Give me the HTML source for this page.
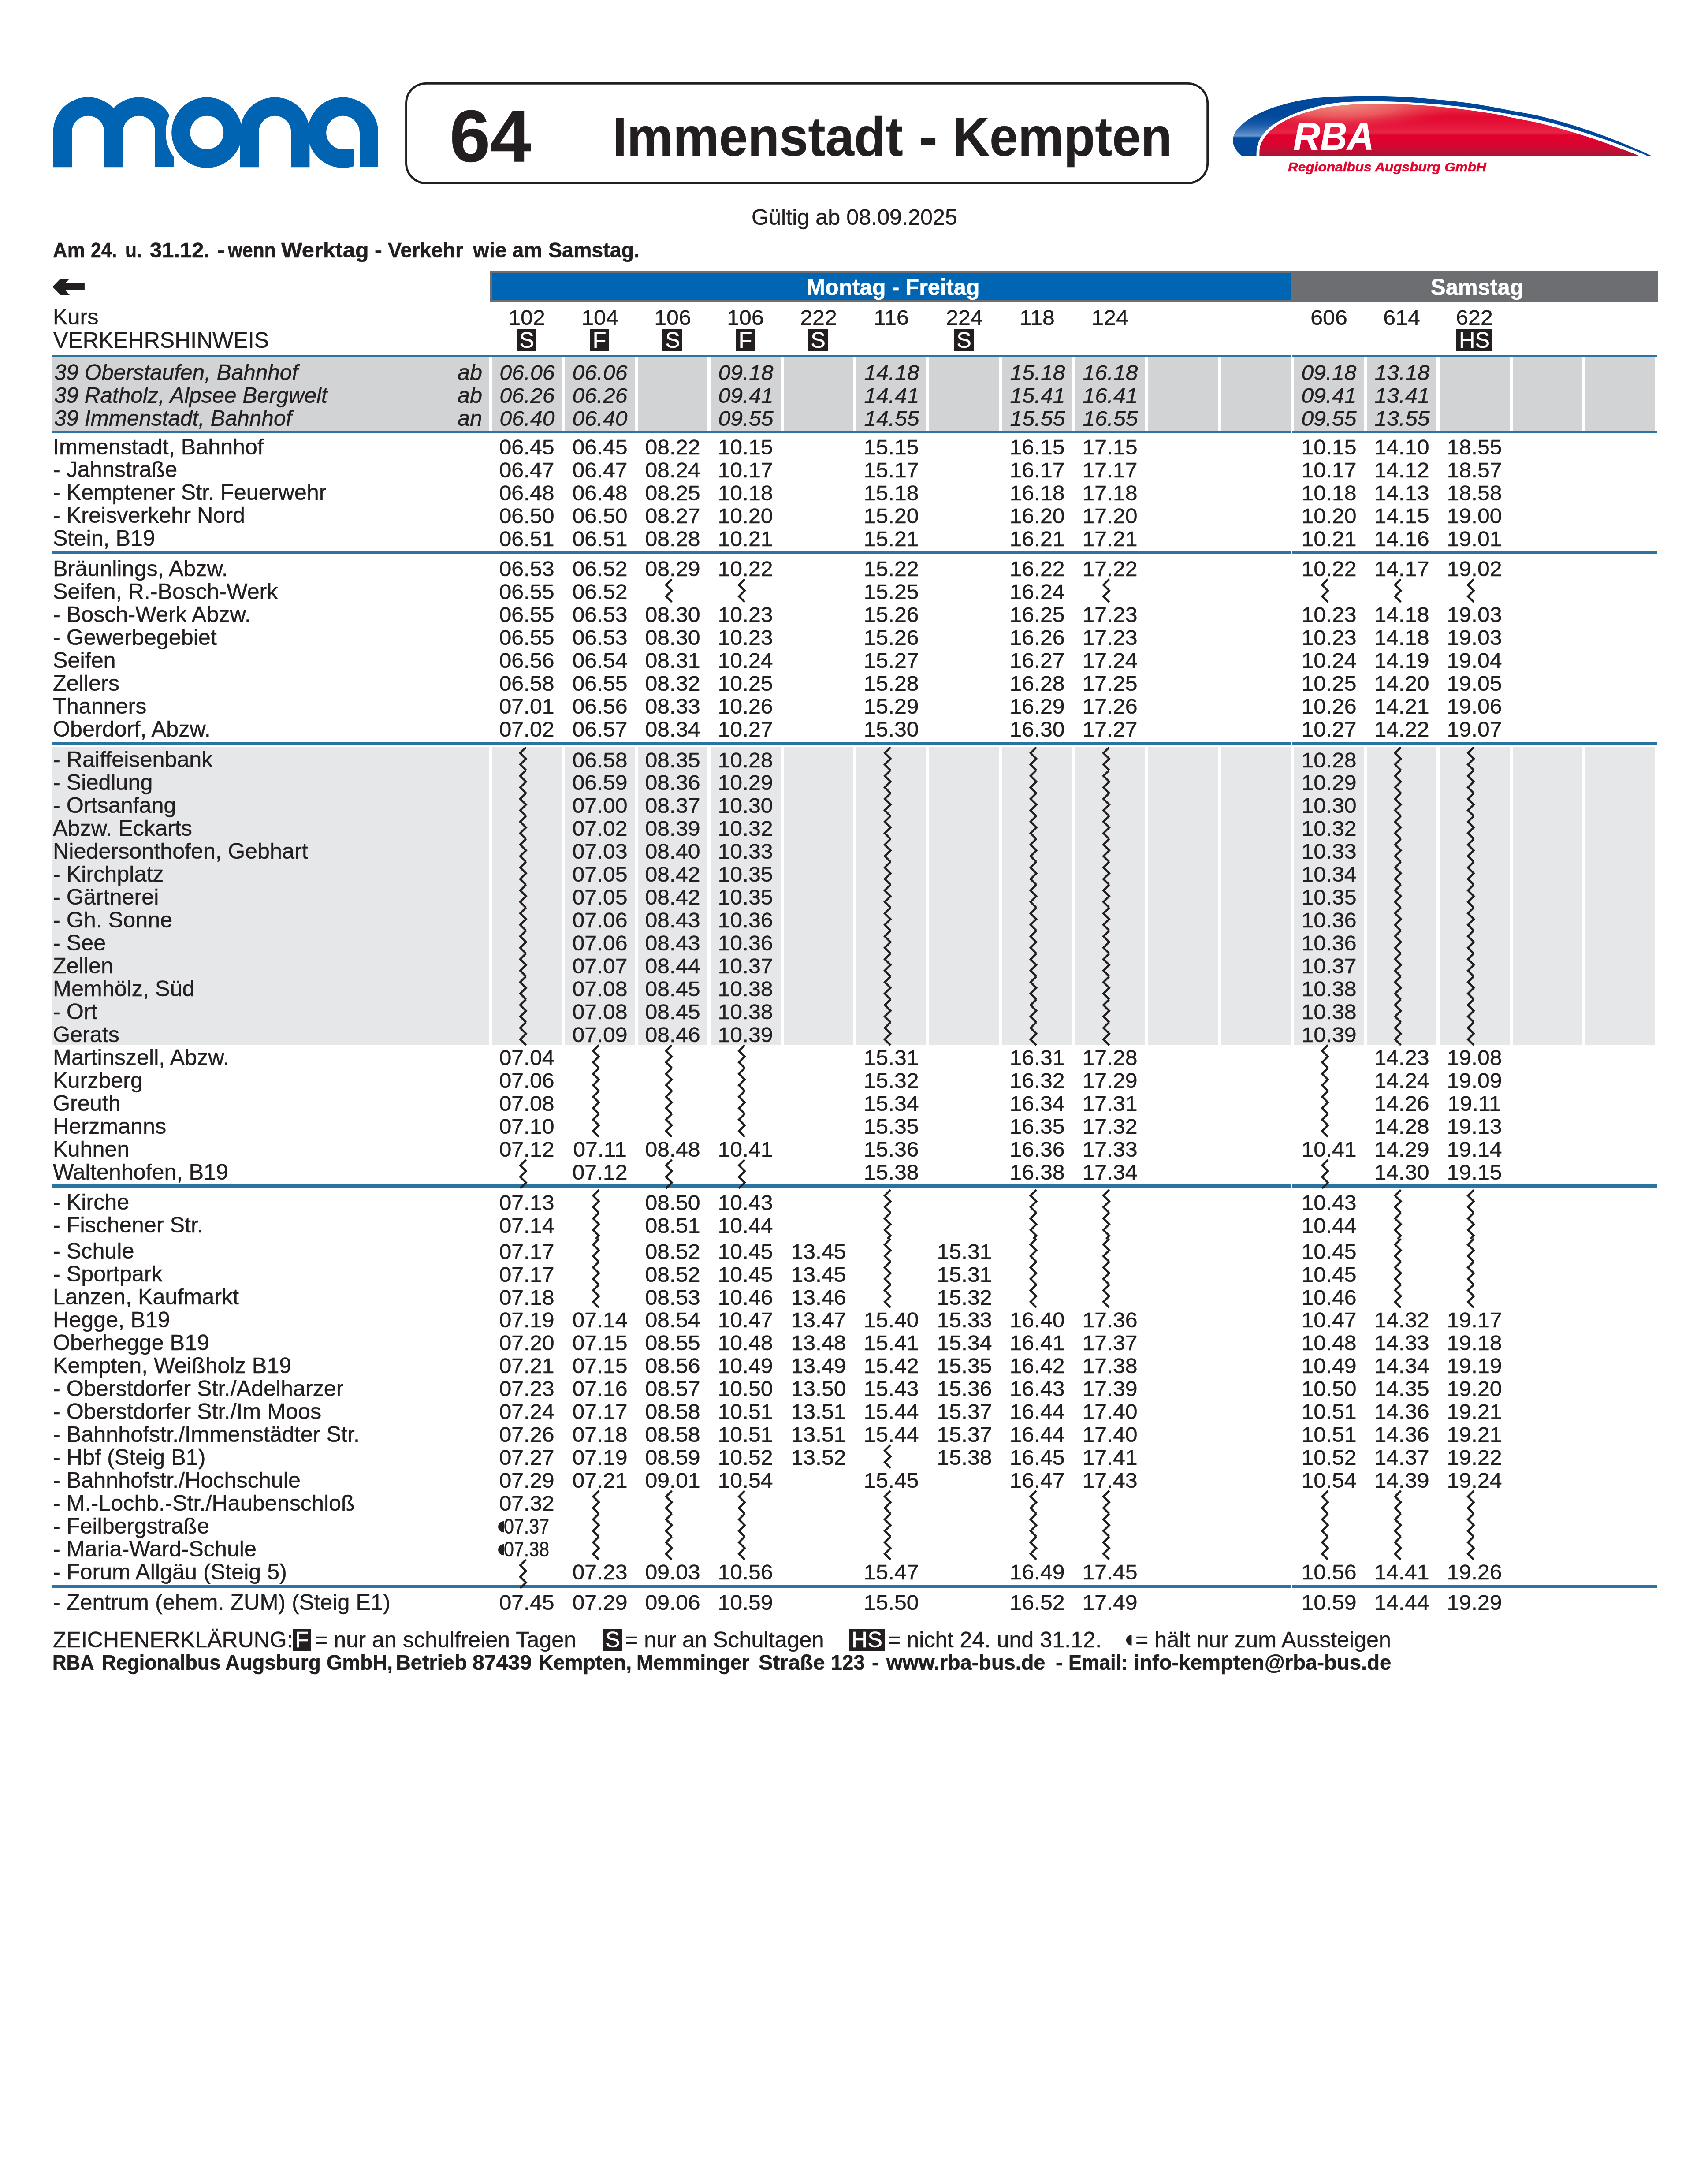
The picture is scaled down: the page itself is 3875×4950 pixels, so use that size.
<!DOCTYPE html>
<html lang="de"><head><meta charset="utf-8"><title>64 Immenstadt - Kempten</title><style>
html,body{margin:0;padding:0;background:#fff}
body{width:3875px;height:4950px;position:relative;overflow:hidden;font-family:"Liberation Sans",sans-serif;color:#231f20}
.r{position:absolute}
.g{position:absolute;left:0;top:0}
.t{position:absolute;white-space:pre;font-family:"Liberation Sans",sans-serif;-webkit-text-stroke:0.5px currentColor}
.i{font-style:italic}
.b{font-weight:bold;-webkit-text-stroke:0.6px currentColor}
.w{color:#fff}
</style></head><body>
<div class="r" style="left:119.00px;top:810.00px;width:990.00px;height:168.50px;background:#d1d3d4"></div>
<div class="r" style="left:1116.00px;top:810.00px;width:158.40px;height:168.50px;background:#d1d3d4"></div>
<div class="r" style="left:1281.40px;top:810.00px;width:158.40px;height:168.50px;background:#d1d3d4"></div>
<div class="r" style="left:1446.80px;top:810.00px;width:158.40px;height:168.50px;background:#d1d3d4"></div>
<div class="r" style="left:1612.20px;top:810.00px;width:158.40px;height:168.50px;background:#d1d3d4"></div>
<div class="r" style="left:1777.60px;top:810.00px;width:158.40px;height:168.50px;background:#d1d3d4"></div>
<div class="r" style="left:1943.00px;top:810.00px;width:158.40px;height:168.50px;background:#d1d3d4"></div>
<div class="r" style="left:2108.40px;top:810.00px;width:158.40px;height:168.50px;background:#d1d3d4"></div>
<div class="r" style="left:2273.80px;top:810.00px;width:158.40px;height:168.50px;background:#d1d3d4"></div>
<div class="r" style="left:2439.20px;top:810.00px;width:158.40px;height:168.50px;background:#d1d3d4"></div>
<div class="r" style="left:2604.60px;top:810.00px;width:158.40px;height:168.50px;background:#d1d3d4"></div>
<div class="r" style="left:2770.00px;top:810.00px;width:158.40px;height:168.50px;background:#d1d3d4"></div>
<div class="r" style="left:2935.40px;top:810.00px;width:158.40px;height:168.50px;background:#d1d3d4"></div>
<div class="r" style="left:3100.80px;top:810.00px;width:158.40px;height:168.50px;background:#d1d3d4"></div>
<div class="r" style="left:3266.20px;top:810.00px;width:158.40px;height:168.50px;background:#d1d3d4"></div>
<div class="r" style="left:3431.60px;top:810.00px;width:158.40px;height:168.50px;background:#d1d3d4"></div>
<div class="r" style="left:3597.00px;top:810.00px;width:158.40px;height:168.50px;background:#d1d3d4"></div>
<div class="r" style="left:119.00px;top:1694.01px;width:990.00px;height:676.04px;background:#e6e7e8"></div>
<div class="r" style="left:1116.00px;top:1694.01px;width:158.40px;height:676.04px;background:#e6e7e8"></div>
<div class="r" style="left:1281.40px;top:1694.01px;width:158.40px;height:676.04px;background:#e6e7e8"></div>
<div class="r" style="left:1446.80px;top:1694.01px;width:158.40px;height:676.04px;background:#e6e7e8"></div>
<div class="r" style="left:1612.20px;top:1694.01px;width:158.40px;height:676.04px;background:#e6e7e8"></div>
<div class="r" style="left:1777.60px;top:1694.01px;width:158.40px;height:676.04px;background:#e6e7e8"></div>
<div class="r" style="left:1943.00px;top:1694.01px;width:158.40px;height:676.04px;background:#e6e7e8"></div>
<div class="r" style="left:2108.40px;top:1694.01px;width:158.40px;height:676.04px;background:#e6e7e8"></div>
<div class="r" style="left:2273.80px;top:1694.01px;width:158.40px;height:676.04px;background:#e6e7e8"></div>
<div class="r" style="left:2439.20px;top:1694.01px;width:158.40px;height:676.04px;background:#e6e7e8"></div>
<div class="r" style="left:2604.60px;top:1694.01px;width:158.40px;height:676.04px;background:#e6e7e8"></div>
<div class="r" style="left:2770.00px;top:1694.01px;width:158.40px;height:676.04px;background:#e6e7e8"></div>
<div class="r" style="left:2935.40px;top:1694.01px;width:158.40px;height:676.04px;background:#e6e7e8"></div>
<div class="r" style="left:3100.80px;top:1694.01px;width:158.40px;height:676.04px;background:#e6e7e8"></div>
<div class="r" style="left:3266.20px;top:1694.01px;width:158.40px;height:676.04px;background:#e6e7e8"></div>
<div class="r" style="left:3431.60px;top:1694.01px;width:158.40px;height:676.04px;background:#e6e7e8"></div>
<div class="r" style="left:3597.00px;top:1694.01px;width:158.40px;height:676.04px;background:#e6e7e8"></div>
<div class="r" style="left:119.00px;top:805.00px;width:2809.00px;height:5.20px;background:#2b74a1"></div>
<div class="r" style="left:2931.20px;top:805.00px;width:827.80px;height:5.20px;background:#2b74a1"></div>
<div class="r" style="left:119.00px;top:978.00px;width:2809.00px;height:5.20px;background:#2b74a1"></div>
<div class="r" style="left:2931.20px;top:978.00px;width:827.80px;height:5.20px;background:#2b74a1"></div>
<div class="r" style="left:119.00px;top:1250.10px;width:2809.00px;height:7.00px;background:#2b74a1"></div>
<div class="r" style="left:2931.20px;top:1250.10px;width:827.80px;height:7.00px;background:#2b74a1"></div>
<div class="r" style="left:119.00px;top:1683.20px;width:2809.00px;height:6.80px;background:#2b74a1"></div>
<div class="r" style="left:2931.20px;top:1683.20px;width:827.80px;height:6.80px;background:#2b74a1"></div>
<div class="r" style="left:119.00px;top:2686.90px;width:2809.00px;height:6.80px;background:#2b74a1"></div>
<div class="r" style="left:2931.20px;top:2686.90px;width:827.80px;height:6.80px;background:#2b74a1"></div>
<div class="r" style="left:119.00px;top:3596.30px;width:2809.00px;height:6.60px;background:#2b74a1"></div>
<div class="r" style="left:2931.20px;top:3596.30px;width:827.80px;height:6.60px;background:#2b74a1"></div>
<div class="r" style="left:1112.00px;top:615.00px;width:2649.00px;height:70.00px;background:#6d6e71"></div>
<div class="r" style="left:1116.50px;top:620.00px;width:1812.50px;height:60.00px;background:#0066b3"></div>
<div class="r" style="left:1172.40px;top:746.20px;width:44.60px;height:50.60px;background:#231f20"></div>
<div class="r" style="left:1339.20px;top:746.20px;width:41.80px;height:50.60px;background:#231f20"></div>
<div class="r" style="left:1503.20px;top:746.20px;width:44.60px;height:50.60px;background:#231f20"></div>
<div class="r" style="left:1670.00px;top:746.20px;width:41.80px;height:50.60px;background:#231f20"></div>
<div class="r" style="left:1834.00px;top:746.20px;width:44.60px;height:50.60px;background:#231f20"></div>
<div class="r" style="left:2164.80px;top:746.20px;width:44.60px;height:50.60px;background:#231f20"></div>
<div class="r" style="left:3304.40px;top:746.20px;width:81.00px;height:50.60px;background:#231f20"></div>
<div class="r" style="left:664.00px;top:3695.00px;width:42.00px;height:50.40px;background:#231f20"></div>
<div class="r" style="left:1367.50px;top:3695.00px;width:44.20px;height:50.40px;background:#231f20"></div>
<div class="r" style="left:1926.00px;top:3695.00px;width:81.00px;height:50.40px;background:#231f20"></div>
<svg class="g" width="3875" height="4950" viewBox="0 0 3875 4950">
<g fill="none" stroke="#0064b2" stroke-width="42.4">
<path d="M141.9,379.2 V299.4 A57.85,57.85 0 0 1 257.6,299.4 V379.2 M257.6,299.4 A57.8,57.8 0 0 1 373.2,299.4 V379.2"/>
</g>
<circle cx="469.3" cy="300.7" r="93.4" fill="#fff" stroke="none"/>
<rect x="352" y="379.2" width="120" height="16" fill="#fff" stroke="none"/>
<g fill="none" stroke="#0064b2" stroke-width="42.2">
<circle cx="469.3" cy="300.7" r="59"/>
<path d="M566.1,379.2 V299.2 A57.6,57.6 0 0 1 681.3,299.2 V379.2"/>
<circle cx="778" cy="300.7" r="59"/>
</g>
<rect x="802" y="300.7" width="14" height="84" fill="#fff" stroke="none"/>
<rect x="788" y="322" width="15" height="15" fill="#fff" stroke="none"/>
<rect x="816" y="300.7" width="41.6" height="78.5" fill="#0064b2" stroke="none"/>
<rect x="802" y="379.2" width="60" height="6" fill="#fff" stroke="none"/>

<defs>
<linearGradient id="rg" gradientUnits="userSpaceOnUse" x1="0" y1="235" x2="0" y2="355">
<stop offset="0" stop-color="#e63a4c"/><stop offset="0.25" stop-color="#e3082f"/><stop offset="0.42" stop-color="#e5163c"/><stop offset="0.55" stop-color="#e72446"/><stop offset="0.6" stop-color="#e1002d"/><stop offset="0.78" stop-color="#d90430"/><stop offset="0.9" stop-color="#ba1235"/><stop offset="1" stop-color="#a91434"/>
</linearGradient>
<radialGradient id="rh" gradientUnits="userSpaceOnUse" cx="3040" cy="238" r="260" gradientTransform="translate(3040,238) scale(1,0.21) translate(-3040,-238)">
<stop offset="0" stop-color="#f0907f" stop-opacity="0.95"/><stop offset="0.5" stop-color="#ec6e6a" stop-opacity="0.75"/><stop offset="1" stop-color="#e63a4c" stop-opacity="0"/>
</radialGradient>
<linearGradient id="bg" gradientUnits="userSpaceOnUse" x1="0" y1="250" x2="0" y2="355">
<stop offset="0" stop-color="#00489b" stop-opacity="0"/><stop offset="0.3" stop-color="#2a66b3" stop-opacity="0.6"/><stop offset="0.56" stop-color="#6a98cf" stop-opacity="1"/><stop offset="0.6" stop-color="#0c4ea2" stop-opacity="0.3"/><stop offset="1" stop-color="#00489b" stop-opacity="0"/>
</linearGradient>
<linearGradient id="bgx" gradientUnits="userSpaceOnUse" x1="2797" y1="0" x2="2960" y2="0">
<stop offset="0" stop-color="#fff" stop-opacity="1"/><stop offset="0.55" stop-color="#fff" stop-opacity="1"/><stop offset="1" stop-color="#fff" stop-opacity="0"/>
</linearGradient>
<mask id="bm" maskUnits="userSpaceOnUse" x="2790" y="200" width="200" height="170"><rect x="2790" y="200" width="200" height="170" fill="url(#bgx)"/></mask>
<clipPath id="bc"><path d="M2818.6,354.8 C2816.3,352.5 2808.5,345.6 2805.1,341.0 C2801.7,336.4 2799.7,331.7 2798.4,327.5 C2797.1,323.3 2796.9,320.1 2797.4,315.9 C2797.9,311.7 2799.1,306.9 2801.3,302.4 C2803.6,297.9 2806.7,293.4 2810.9,288.9 C2815.1,284.4 2820.3,279.8 2826.4,275.3 C2832.5,270.8 2839.9,266.0 2847.6,261.8 C2855.3,257.6 2864.0,253.7 2872.7,250.2 C2881.4,246.7 2889.5,243.8 2899.8,240.6 C2910.1,237.4 2922.4,233.7 2934.6,230.9 C2946.8,228.2 2960.3,225.9 2973.2,224.1 C2986.1,222.3 2998.9,221.2 3011.8,220.3 C3024.7,219.4 3035.8,218.8 3050.5,218.4 C3065.2,218.0 3082.1,218.0 3100.0,218.0 C3117.9,218.0 3138.7,217.8 3158.0,218.4 C3177.3,219.0 3196.6,220.4 3215.9,221.8 C3235.2,223.2 3254.6,225.0 3273.9,227.0 C3293.2,229.0 3312.5,231.1 3331.8,233.8 C3351.1,236.6 3373.4,240.6 3389.8,243.5 C3406.2,246.4 3413.6,248.2 3430.0,251.3 C3446.4,254.4 3468.7,257.6 3488.0,261.9 C3507.3,266.2 3526.6,271.7 3545.9,277.3 C3565.2,282.9 3584.6,289.1 3603.9,295.7 C3623.2,302.3 3642.5,309.3 3661.8,316.9 C3681.1,324.5 3705.4,334.9 3719.8,341.1 C3734.2,347.3 3743.3,352.0 3748.0,354.2 L3740.0,354.8 C3736.6,353.3 3732.8,351.1 3719.8,345.9 C3706.8,340.7 3681.1,330.7 3661.8,323.7 C3642.5,316.7 3623.2,310.1 3603.9,303.8 C3584.6,297.5 3565.2,291.5 3545.9,286.0 C3526.6,280.5 3507.3,275.4 3488.0,271.0 C3468.7,266.6 3446.4,262.9 3430.0,259.9 C3413.6,256.9 3406.2,255.8 3389.8,253.1 C3373.4,250.4 3351.1,246.6 3331.8,244.0 C3312.5,241.4 3293.2,239.5 3273.9,237.7 C3254.6,235.9 3235.2,234.4 3215.9,233.2 C3196.6,232.0 3177.3,231.1 3158.0,230.5 C3138.7,229.9 3117.9,229.7 3100.0,229.9 C3082.1,230.1 3065.2,230.4 3050.5,231.5 C3035.8,232.6 3024.7,234.1 3011.8,236.5 C2998.9,238.9 2984.5,242.9 2973.2,246.0 C2961.9,249.1 2953.9,251.4 2944.2,255.0 C2934.5,258.6 2924.5,262.9 2915.2,267.6 C2905.9,272.3 2895.9,277.6 2888.2,283.1 C2880.5,288.6 2874.1,294.7 2868.9,300.5 C2863.8,306.3 2860.2,312.1 2857.3,317.9 C2854.4,323.7 2852.6,329.0 2851.5,335.2 C2850.4,341.4 2850.7,351.5 2850.5,354.8 Z"/></clipPath>
<clipPath id="rc"><path d="M2857.3,354.8 C2857.5,351.5 2857.1,341.0 2858.2,335.2 C2859.3,329.4 2861.2,324.9 2864.0,319.8 C2866.8,314.7 2870.0,309.6 2874.7,304.3 C2879.4,299.0 2884.7,293.3 2892.1,287.9 C2899.5,282.5 2909.8,276.6 2919.1,271.9 C2928.4,267.2 2938.4,263.3 2948.1,259.9 C2957.8,256.4 2966.5,254.0 2977.1,251.2 C2987.7,248.4 2999.6,245.1 3011.8,243.0 C3024.0,240.9 3035.8,239.8 3050.5,238.6 C3065.2,237.4 3082.1,236.1 3100.0,235.7 C3117.9,235.3 3138.7,235.9 3158.0,236.3 C3177.3,236.7 3196.6,237.2 3215.9,238.3 C3235.2,239.4 3254.6,241.0 3273.9,242.9 C3293.2,244.8 3312.5,247.2 3331.8,249.8 C3351.1,252.4 3373.4,255.5 3389.8,258.3 C3406.2,261.1 3413.6,263.4 3430.0,266.7 C3446.4,270.0 3468.7,273.9 3488.0,278.3 C3507.3,282.8 3526.6,287.9 3545.9,293.4 C3565.2,298.9 3584.6,304.8 3603.9,311.1 C3623.2,317.4 3645.7,325.6 3661.8,331.4 C3677.9,337.2 3690.4,342.0 3700.5,345.9 C3710.6,349.8 3718.8,353.3 3722.5,354.8 Z"/></clipPath>
</defs>
<path fill="#00489b" stroke="none" d="M2818.6,354.8 C2816.3,352.5 2808.5,345.6 2805.1,341.0 C2801.7,336.4 2799.7,331.7 2798.4,327.5 C2797.1,323.3 2796.9,320.1 2797.4,315.9 C2797.9,311.7 2799.1,306.9 2801.3,302.4 C2803.6,297.9 2806.7,293.4 2810.9,288.9 C2815.1,284.4 2820.3,279.8 2826.4,275.3 C2832.5,270.8 2839.9,266.0 2847.6,261.8 C2855.3,257.6 2864.0,253.7 2872.7,250.2 C2881.4,246.7 2889.5,243.8 2899.8,240.6 C2910.1,237.4 2922.4,233.7 2934.6,230.9 C2946.8,228.2 2960.3,225.9 2973.2,224.1 C2986.1,222.3 2998.9,221.2 3011.8,220.3 C3024.7,219.4 3035.8,218.8 3050.5,218.4 C3065.2,218.0 3082.1,218.0 3100.0,218.0 C3117.9,218.0 3138.7,217.8 3158.0,218.4 C3177.3,219.0 3196.6,220.4 3215.9,221.8 C3235.2,223.2 3254.6,225.0 3273.9,227.0 C3293.2,229.0 3312.5,231.1 3331.8,233.8 C3351.1,236.6 3373.4,240.6 3389.8,243.5 C3406.2,246.4 3413.6,248.2 3430.0,251.3 C3446.4,254.4 3468.7,257.6 3488.0,261.9 C3507.3,266.2 3526.6,271.7 3545.9,277.3 C3565.2,282.9 3584.6,289.1 3603.9,295.7 C3623.2,302.3 3642.5,309.3 3661.8,316.9 C3681.1,324.5 3705.4,334.9 3719.8,341.1 C3734.2,347.3 3743.3,352.0 3748.0,354.2 L3740.0,354.8 C3736.6,353.3 3732.8,351.1 3719.8,345.9 C3706.8,340.7 3681.1,330.7 3661.8,323.7 C3642.5,316.7 3623.2,310.1 3603.9,303.8 C3584.6,297.5 3565.2,291.5 3545.9,286.0 C3526.6,280.5 3507.3,275.4 3488.0,271.0 C3468.7,266.6 3446.4,262.9 3430.0,259.9 C3413.6,256.9 3406.2,255.8 3389.8,253.1 C3373.4,250.4 3351.1,246.6 3331.8,244.0 C3312.5,241.4 3293.2,239.5 3273.9,237.7 C3254.6,235.9 3235.2,234.4 3215.9,233.2 C3196.6,232.0 3177.3,231.1 3158.0,230.5 C3138.7,229.9 3117.9,229.7 3100.0,229.9 C3082.1,230.1 3065.2,230.4 3050.5,231.5 C3035.8,232.6 3024.7,234.1 3011.8,236.5 C2998.9,238.9 2984.5,242.9 2973.2,246.0 C2961.9,249.1 2953.9,251.4 2944.2,255.0 C2934.5,258.6 2924.5,262.9 2915.2,267.6 C2905.9,272.3 2895.9,277.6 2888.2,283.1 C2880.5,288.6 2874.1,294.7 2868.9,300.5 C2863.8,306.3 2860.2,312.1 2857.3,317.9 C2854.4,323.7 2852.6,329.0 2851.5,335.2 C2850.4,341.4 2850.7,351.5 2850.5,354.8 Z"/>
<g clip-path="url(#bc)"><rect x="2790" y="240" width="200" height="120" fill="url(#bg)" mask="url(#bm)"/></g>
<path fill="url(#rg)" stroke="none" d="M2857.3,354.8 C2857.5,351.5 2857.1,341.0 2858.2,335.2 C2859.3,329.4 2861.2,324.9 2864.0,319.8 C2866.8,314.7 2870.0,309.6 2874.7,304.3 C2879.4,299.0 2884.7,293.3 2892.1,287.9 C2899.5,282.5 2909.8,276.6 2919.1,271.9 C2928.4,267.2 2938.4,263.3 2948.1,259.9 C2957.8,256.4 2966.5,254.0 2977.1,251.2 C2987.7,248.4 2999.6,245.1 3011.8,243.0 C3024.0,240.9 3035.8,239.8 3050.5,238.6 C3065.2,237.4 3082.1,236.1 3100.0,235.7 C3117.9,235.3 3138.7,235.9 3158.0,236.3 C3177.3,236.7 3196.6,237.2 3215.9,238.3 C3235.2,239.4 3254.6,241.0 3273.9,242.9 C3293.2,244.8 3312.5,247.2 3331.8,249.8 C3351.1,252.4 3373.4,255.5 3389.8,258.3 C3406.2,261.1 3413.6,263.4 3430.0,266.7 C3446.4,270.0 3468.7,273.9 3488.0,278.3 C3507.3,282.8 3526.6,287.9 3545.9,293.4 C3565.2,298.9 3584.6,304.8 3603.9,311.1 C3623.2,317.4 3645.7,325.6 3661.8,331.4 C3677.9,337.2 3690.4,342.0 3700.5,345.9 C3710.6,349.8 3718.8,353.3 3722.5,354.8 Z"/>
<g clip-path="url(#rc)"><rect x="2780" y="180" width="520" height="120" fill="url(#rh)"/></g>
<g fill="none" stroke="#231f20" stroke-width="4.6" stroke-linejoin="miter" stroke-miterlimit="10"><polyline points="1524.2,1313.9 1511.0,1326.9 1524.2,1339.9 1511.0,1352.9 1524.2,1365.9"/><polyline points="1689.6,1313.9 1676.4,1326.9 1689.6,1339.9 1676.4,1352.9 1689.6,1365.9"/><polyline points="2516.6,1313.9 2503.4,1326.9 2516.6,1339.9 2503.4,1352.9 2516.6,1365.9"/><polyline points="3012.8,1313.9 2999.6,1326.9 3012.8,1339.9 2999.6,1352.9 3012.8,1365.9"/><polyline points="3178.2,1313.9 3165.0,1326.9 3178.2,1339.9 3165.0,1352.9 3178.2,1365.9"/><polyline points="3343.6,1313.9 3330.4,1326.9 3343.6,1339.9 3330.4,1352.9 3343.6,1365.9"/><polyline points="1193.4,1695.3 1180.2,1708.3 1193.4,1721.3 1180.2,1734.3 1193.4,1747.3"/><polyline points="2020.4,1695.3 2007.2,1708.3 2020.4,1721.3 2007.2,1734.3 2020.4,1747.3"/><polyline points="2351.2,1695.3 2338.0,1708.3 2351.2,1721.3 2338.0,1734.3 2351.2,1747.3"/><polyline points="2516.6,1695.3 2503.4,1708.3 2516.6,1721.3 2503.4,1734.3 2516.6,1747.3"/><polyline points="3178.2,1695.3 3165.0,1708.3 3178.2,1721.3 3165.0,1734.3 3178.2,1747.3"/><polyline points="3343.6,1695.3 3330.4,1708.3 3343.6,1721.3 3330.4,1734.3 3343.6,1747.3"/><polyline points="1193.4,1747.3 1180.2,1760.3 1193.4,1773.3 1180.2,1786.3 1193.4,1799.3"/><polyline points="2020.4,1747.3 2007.2,1760.3 2020.4,1773.3 2007.2,1786.3 2020.4,1799.3"/><polyline points="2351.2,1747.3 2338.0,1760.3 2351.2,1773.3 2338.0,1786.3 2351.2,1799.3"/><polyline points="2516.6,1747.3 2503.4,1760.3 2516.6,1773.3 2503.4,1786.3 2516.6,1799.3"/><polyline points="3178.2,1747.3 3165.0,1760.3 3178.2,1773.3 3165.0,1786.3 3178.2,1799.3"/><polyline points="3343.6,1747.3 3330.4,1760.3 3343.6,1773.3 3330.4,1786.3 3343.6,1799.3"/><polyline points="1193.4,1799.3 1180.2,1812.3 1193.4,1825.3 1180.2,1838.3 1193.4,1851.3"/><polyline points="2020.4,1799.3 2007.2,1812.3 2020.4,1825.3 2007.2,1838.3 2020.4,1851.3"/><polyline points="2351.2,1799.3 2338.0,1812.3 2351.2,1825.3 2338.0,1838.3 2351.2,1851.3"/><polyline points="2516.6,1799.3 2503.4,1812.3 2516.6,1825.3 2503.4,1838.3 2516.6,1851.3"/><polyline points="3178.2,1799.3 3165.0,1812.3 3178.2,1825.3 3165.0,1838.3 3178.2,1851.3"/><polyline points="3343.6,1799.3 3330.4,1812.3 3343.6,1825.3 3330.4,1838.3 3343.6,1851.3"/><polyline points="1193.4,1851.2 1180.2,1864.2 1193.4,1877.2 1180.2,1890.2 1193.4,1903.2"/><polyline points="2020.4,1851.2 2007.2,1864.2 2020.4,1877.2 2007.2,1890.2 2020.4,1903.2"/><polyline points="2351.2,1851.2 2338.0,1864.2 2351.2,1877.2 2338.0,1890.2 2351.2,1903.2"/><polyline points="2516.6,1851.2 2503.4,1864.2 2516.6,1877.2 2503.4,1890.2 2516.6,1903.2"/><polyline points="3178.2,1851.2 3165.0,1864.2 3178.2,1877.2 3165.0,1890.2 3178.2,1903.2"/><polyline points="3343.6,1851.2 3330.4,1864.2 3343.6,1877.2 3330.4,1890.2 3343.6,1903.2"/><polyline points="1193.4,1903.2 1180.2,1916.2 1193.4,1929.2 1180.2,1942.2 1193.4,1955.2"/><polyline points="2020.4,1903.2 2007.2,1916.2 2020.4,1929.2 2007.2,1942.2 2020.4,1955.2"/><polyline points="2351.2,1903.2 2338.0,1916.2 2351.2,1929.2 2338.0,1942.2 2351.2,1955.2"/><polyline points="2516.6,1903.2 2503.4,1916.2 2516.6,1929.2 2503.4,1942.2 2516.6,1955.2"/><polyline points="3178.2,1903.2 3165.0,1916.2 3178.2,1929.2 3165.0,1942.2 3178.2,1955.2"/><polyline points="3343.6,1903.2 3330.4,1916.2 3343.6,1929.2 3330.4,1942.2 3343.6,1955.2"/><polyline points="1193.4,1955.2 1180.2,1968.2 1193.4,1981.2 1180.2,1994.2 1193.4,2007.2"/><polyline points="2020.4,1955.2 2007.2,1968.2 2020.4,1981.2 2007.2,1994.2 2020.4,2007.2"/><polyline points="2351.2,1955.2 2338.0,1968.2 2351.2,1981.2 2338.0,1994.2 2351.2,2007.2"/><polyline points="2516.6,1955.2 2503.4,1968.2 2516.6,1981.2 2503.4,1994.2 2516.6,2007.2"/><polyline points="3178.2,1955.2 3165.0,1968.2 3178.2,1981.2 3165.0,1994.2 3178.2,2007.2"/><polyline points="3343.6,1955.2 3330.4,1968.2 3343.6,1981.2 3330.4,1994.2 3343.6,2007.2"/><polyline points="1193.4,2007.1 1180.2,2020.1 1193.4,2033.1 1180.2,2046.1 1193.4,2059.1"/><polyline points="2020.4,2007.1 2007.2,2020.1 2020.4,2033.1 2007.2,2046.1 2020.4,2059.1"/><polyline points="2351.2,2007.1 2338.0,2020.1 2351.2,2033.1 2338.0,2046.1 2351.2,2059.1"/><polyline points="2516.6,2007.1 2503.4,2020.1 2516.6,2033.1 2503.4,2046.1 2516.6,2059.1"/><polyline points="3178.2,2007.1 3165.0,2020.1 3178.2,2033.1 3165.0,2046.1 3178.2,2059.1"/><polyline points="3343.6,2007.1 3330.4,2020.1 3343.6,2033.1 3330.4,2046.1 3343.6,2059.1"/><polyline points="1193.4,2059.1 1180.2,2072.1 1193.4,2085.1 1180.2,2098.1 1193.4,2111.1"/><polyline points="2020.4,2059.1 2007.2,2072.1 2020.4,2085.1 2007.2,2098.1 2020.4,2111.1"/><polyline points="2351.2,2059.1 2338.0,2072.1 2351.2,2085.1 2338.0,2098.1 2351.2,2111.1"/><polyline points="2516.6,2059.1 2503.4,2072.1 2516.6,2085.1 2503.4,2098.1 2516.6,2111.1"/><polyline points="3178.2,2059.1 3165.0,2072.1 3178.2,2085.1 3165.0,2098.1 3178.2,2111.1"/><polyline points="3343.6,2059.1 3330.4,2072.1 3343.6,2085.1 3330.4,2098.1 3343.6,2111.1"/><polyline points="1193.4,2111.1 1180.2,2124.1 1193.4,2137.1 1180.2,2150.1 1193.4,2163.1"/><polyline points="2020.4,2111.1 2007.2,2124.1 2020.4,2137.1 2007.2,2150.1 2020.4,2163.1"/><polyline points="2351.2,2111.1 2338.0,2124.1 2351.2,2137.1 2338.0,2150.1 2351.2,2163.1"/><polyline points="2516.6,2111.1 2503.4,2124.1 2516.6,2137.1 2503.4,2150.1 2516.6,2163.1"/><polyline points="3178.2,2111.1 3165.0,2124.1 3178.2,2137.1 3165.0,2150.1 3178.2,2163.1"/><polyline points="3343.6,2111.1 3330.4,2124.1 3343.6,2137.1 3330.4,2150.1 3343.6,2163.1"/><polyline points="1193.4,2163.0 1180.2,2176.0 1193.4,2189.0 1180.2,2202.0 1193.4,2215.0"/><polyline points="2020.4,2163.0 2007.2,2176.0 2020.4,2189.0 2007.2,2202.0 2020.4,2215.0"/><polyline points="2351.2,2163.0 2338.0,2176.0 2351.2,2189.0 2338.0,2202.0 2351.2,2215.0"/><polyline points="2516.6,2163.0 2503.4,2176.0 2516.6,2189.0 2503.4,2202.0 2516.6,2215.0"/><polyline points="3178.2,2163.0 3165.0,2176.0 3178.2,2189.0 3165.0,2202.0 3178.2,2215.0"/><polyline points="3343.6,2163.0 3330.4,2176.0 3343.6,2189.0 3330.4,2202.0 3343.6,2215.0"/><polyline points="1193.4,2215.0 1180.2,2228.0 1193.4,2241.0 1180.2,2254.0 1193.4,2267.0"/><polyline points="2020.4,2215.0 2007.2,2228.0 2020.4,2241.0 2007.2,2254.0 2020.4,2267.0"/><polyline points="2351.2,2215.0 2338.0,2228.0 2351.2,2241.0 2338.0,2254.0 2351.2,2267.0"/><polyline points="2516.6,2215.0 2503.4,2228.0 2516.6,2241.0 2503.4,2254.0 2516.6,2267.0"/><polyline points="3178.2,2215.0 3165.0,2228.0 3178.2,2241.0 3165.0,2254.0 3178.2,2267.0"/><polyline points="3343.6,2215.0 3330.4,2228.0 3343.6,2241.0 3330.4,2254.0 3343.6,2267.0"/><polyline points="1193.4,2267.0 1180.2,2280.0 1193.4,2293.0 1180.2,2306.0 1193.4,2319.0"/><polyline points="2020.4,2267.0 2007.2,2280.0 2020.4,2293.0 2007.2,2306.0 2020.4,2319.0"/><polyline points="2351.2,2267.0 2338.0,2280.0 2351.2,2293.0 2338.0,2306.0 2351.2,2319.0"/><polyline points="2516.6,2267.0 2503.4,2280.0 2516.6,2293.0 2503.4,2306.0 2516.6,2319.0"/><polyline points="3178.2,2267.0 3165.0,2280.0 3178.2,2293.0 3165.0,2306.0 3178.2,2319.0"/><polyline points="3343.6,2267.0 3330.4,2280.0 3343.6,2293.0 3330.4,2306.0 3343.6,2319.0"/><polyline points="1193.4,2318.9 1180.2,2331.9 1193.4,2344.9 1180.2,2357.9 1193.4,2370.9"/><polyline points="2020.4,2318.9 2007.2,2331.9 2020.4,2344.9 2007.2,2357.9 2020.4,2370.9"/><polyline points="2351.2,2318.9 2338.0,2331.9 2351.2,2344.9 2338.0,2357.9 2351.2,2370.9"/><polyline points="2516.6,2318.9 2503.4,2331.9 2516.6,2344.9 2503.4,2357.9 2516.6,2370.9"/><polyline points="3178.2,2318.9 3165.0,2331.9 3178.2,2344.9 3165.0,2357.9 3178.2,2370.9"/><polyline points="3343.6,2318.9 3330.4,2331.9 3343.6,2344.9 3330.4,2357.9 3343.6,2370.9"/><polyline points="1358.8,2370.9 1345.6,2383.9 1358.8,2396.9 1345.6,2409.9 1358.8,2422.9"/><polyline points="1524.2,2370.9 1511.0,2383.9 1524.2,2396.9 1511.0,2409.9 1524.2,2422.9"/><polyline points="1689.6,2370.9 1676.4,2383.9 1689.6,2396.9 1676.4,2409.9 1689.6,2422.9"/><polyline points="3012.8,2370.9 2999.6,2383.9 3012.8,2396.9 2999.6,2409.9 3012.8,2422.9"/><polyline points="1358.8,2422.9 1345.6,2435.9 1358.8,2448.9 1345.6,2461.9 1358.8,2474.9"/><polyline points="1524.2,2422.9 1511.0,2435.9 1524.2,2448.9 1511.0,2461.9 1524.2,2474.9"/><polyline points="1689.6,2422.9 1676.4,2435.9 1689.6,2448.9 1676.4,2461.9 1689.6,2474.9"/><polyline points="3012.8,2422.9 2999.6,2435.9 3012.8,2448.9 2999.6,2461.9 3012.8,2474.9"/><polyline points="1358.8,2474.9 1345.6,2487.9 1358.8,2500.9 1345.6,2513.9 1358.8,2526.9"/><polyline points="1524.2,2474.9 1511.0,2487.9 1524.2,2500.9 1511.0,2513.9 1524.2,2526.9"/><polyline points="1689.6,2474.9 1676.4,2487.9 1689.6,2500.9 1676.4,2513.9 1689.6,2526.9"/><polyline points="3012.8,2474.9 2999.6,2487.9 3012.8,2500.9 2999.6,2513.9 3012.8,2526.9"/><polyline points="1358.8,2526.8 1345.6,2539.8 1358.8,2552.8 1345.6,2565.8 1358.8,2578.8"/><polyline points="1524.2,2526.8 1511.0,2539.8 1524.2,2552.8 1511.0,2565.8 1524.2,2578.8"/><polyline points="1689.6,2526.8 1676.4,2539.8 1689.6,2552.8 1676.4,2565.8 1689.6,2578.8"/><polyline points="3012.8,2526.8 2999.6,2539.8 3012.8,2552.8 2999.6,2565.8 3012.8,2578.8"/><polyline points="1193.4,2630.8 1180.2,2643.8 1193.4,2656.8 1180.2,2669.8 1193.4,2682.8 1180.2,2695.8"/><polyline points="1524.2,2630.8 1511.0,2643.8 1524.2,2656.8 1511.0,2669.8 1524.2,2682.8 1511.0,2695.8"/><polyline points="1689.6,2630.8 1676.4,2643.8 1689.6,2656.8 1676.4,2669.8 1689.6,2682.8 1676.4,2695.8"/><polyline points="3012.8,2630.8 2999.6,2643.8 3012.8,2656.8 2999.6,2669.8 3012.8,2682.8 2999.6,2695.8"/><polyline points="1358.8,2699.3 1345.6,2712.3 1358.8,2725.3 1345.6,2738.3 1358.8,2751.3"/><polyline points="2020.4,2699.3 2007.2,2712.3 2020.4,2725.3 2007.2,2738.3 2020.4,2751.3"/><polyline points="2351.2,2699.3 2338.0,2712.3 2351.2,2725.3 2338.0,2738.3 2351.2,2751.3"/><polyline points="2516.6,2699.3 2503.4,2712.3 2516.6,2725.3 2503.4,2738.3 2516.6,2751.3"/><polyline points="3178.2,2699.3 3165.0,2712.3 3178.2,2725.3 3165.0,2738.3 3178.2,2751.3"/><polyline points="3343.6,2699.3 3330.4,2712.3 3343.6,2725.3 3330.4,2738.3 3343.6,2751.3"/><polyline points="1358.8,2751.3 1345.6,2764.3 1358.8,2777.3 1345.6,2790.3 1358.8,2803.3 1351.6,2810.4"/><polyline points="2020.4,2751.3 2007.2,2764.3 2020.4,2777.3 2007.2,2790.3 2020.4,2803.3 2013.2,2810.4"/><polyline points="2351.2,2751.3 2338.0,2764.3 2351.2,2777.3 2338.0,2790.3 2351.2,2803.3 2344.0,2810.4"/><polyline points="2516.6,2751.3 2503.4,2764.3 2516.6,2777.3 2503.4,2790.3 2516.6,2803.3 2509.4,2810.4"/><polyline points="3178.2,2751.3 3165.0,2764.3 3178.2,2777.3 3165.0,2790.3 3178.2,2803.3 3171.0,2810.4"/><polyline points="3343.6,2751.3 3330.4,2764.3 3343.6,2777.3 3330.4,2790.3 3343.6,2803.3 3336.4,2810.4"/><polyline points="1358.8,2810.4 1345.6,2823.4 1358.8,2836.4 1345.6,2849.4 1358.8,2862.4"/><polyline points="2020.4,2810.4 2007.2,2823.4 2020.4,2836.4 2007.2,2849.4 2020.4,2862.4"/><polyline points="2351.2,2810.4 2338.0,2823.4 2351.2,2836.4 2338.0,2849.4 2351.2,2862.4"/><polyline points="2516.6,2810.4 2503.4,2823.4 2516.6,2836.4 2503.4,2849.4 2516.6,2862.4"/><polyline points="3178.2,2810.4 3165.0,2823.4 3178.2,2836.4 3165.0,2849.4 3178.2,2862.4"/><polyline points="3343.6,2810.4 3330.4,2823.4 3343.6,2836.4 3330.4,2849.4 3343.6,2862.4"/><polyline points="1358.8,2862.3 1345.6,2875.3 1358.8,2888.3 1345.6,2901.3 1358.8,2914.3"/><polyline points="2020.4,2862.3 2007.2,2875.3 2020.4,2888.3 2007.2,2901.3 2020.4,2914.3"/><polyline points="2351.2,2862.3 2338.0,2875.3 2351.2,2888.3 2338.0,2901.3 2351.2,2914.3"/><polyline points="2516.6,2862.3 2503.4,2875.3 2516.6,2888.3 2503.4,2901.3 2516.6,2914.3"/><polyline points="3178.2,2862.3 3165.0,2875.3 3178.2,2888.3 3165.0,2901.3 3178.2,2914.3"/><polyline points="3343.6,2862.3 3330.4,2875.3 3343.6,2888.3 3330.4,2901.3 3343.6,2914.3"/><polyline points="1358.8,2914.3 1345.6,2927.3 1358.8,2940.3 1345.6,2953.3 1358.8,2966.3"/><polyline points="2020.4,2914.3 2007.2,2927.3 2020.4,2940.3 2007.2,2953.3 2020.4,2966.3"/><polyline points="2351.2,2914.3 2338.0,2927.3 2351.2,2940.3 2338.0,2953.3 2351.2,2966.3"/><polyline points="2516.6,2914.3 2503.4,2927.3 2516.6,2940.3 2503.4,2953.3 2516.6,2966.3"/><polyline points="3178.2,2914.3 3165.0,2927.3 3178.2,2940.3 3165.0,2953.3 3178.2,2966.3"/><polyline points="3343.6,2914.3 3330.4,2927.3 3343.6,2940.3 3330.4,2953.3 3343.6,2966.3"/><polyline points="2020.4,3278.1 2007.2,3291.1 2020.4,3304.1 2007.2,3317.1 2020.4,3330.1"/><polyline points="1358.8,3382.0 1345.6,3395.0 1358.8,3408.0 1345.6,3421.0 1358.8,3434.0"/><polyline points="1524.2,3382.0 1511.0,3395.0 1524.2,3408.0 1511.0,3421.0 1524.2,3434.0"/><polyline points="1689.6,3382.0 1676.4,3395.0 1689.6,3408.0 1676.4,3421.0 1689.6,3434.0"/><polyline points="2020.4,3382.0 2007.2,3395.0 2020.4,3408.0 2007.2,3421.0 2020.4,3434.0"/><polyline points="2351.2,3382.0 2338.0,3395.0 2351.2,3408.0 2338.0,3421.0 2351.2,3434.0"/><polyline points="2516.6,3382.0 2503.4,3395.0 2516.6,3408.0 2503.4,3421.0 2516.6,3434.0"/><polyline points="3012.8,3382.0 2999.6,3395.0 3012.8,3408.0 2999.6,3421.0 3012.8,3434.0"/><polyline points="3178.2,3382.0 3165.0,3395.0 3178.2,3408.0 3165.0,3421.0 3178.2,3434.0"/><polyline points="3343.6,3382.0 3330.4,3395.0 3343.6,3408.0 3330.4,3421.0 3343.6,3434.0"/><polyline points="1358.8,3434.0 1345.6,3447.0 1358.8,3460.0 1345.6,3473.0 1358.8,3486.0"/><polyline points="1524.2,3434.0 1511.0,3447.0 1524.2,3460.0 1511.0,3473.0 1524.2,3486.0"/><polyline points="1689.6,3434.0 1676.4,3447.0 1689.6,3460.0 1676.4,3473.0 1689.6,3486.0"/><polyline points="2020.4,3434.0 2007.2,3447.0 2020.4,3460.0 2007.2,3473.0 2020.4,3486.0"/><polyline points="2351.2,3434.0 2338.0,3447.0 2351.2,3460.0 2338.0,3473.0 2351.2,3486.0"/><polyline points="2516.6,3434.0 2503.4,3447.0 2516.6,3460.0 2503.4,3473.0 2516.6,3486.0"/><polyline points="3012.8,3434.0 2999.6,3447.0 3012.8,3460.0 2999.6,3473.0 3012.8,3486.0"/><polyline points="3178.2,3434.0 3165.0,3447.0 3178.2,3460.0 3165.0,3473.0 3178.2,3486.0"/><polyline points="3343.6,3434.0 3330.4,3447.0 3343.6,3460.0 3330.4,3473.0 3343.6,3486.0"/><polyline points="1358.8,3486.0 1345.6,3499.0 1358.8,3512.0 1345.6,3525.0 1358.8,3538.0"/><polyline points="1524.2,3486.0 1511.0,3499.0 1524.2,3512.0 1511.0,3525.0 1524.2,3538.0"/><polyline points="1689.6,3486.0 1676.4,3499.0 1689.6,3512.0 1676.4,3525.0 1689.6,3538.0"/><polyline points="2020.4,3486.0 2007.2,3499.0 2020.4,3512.0 2007.2,3525.0 2020.4,3538.0"/><polyline points="2351.2,3486.0 2338.0,3499.0 2351.2,3512.0 2338.0,3525.0 2351.2,3538.0"/><polyline points="2516.6,3486.0 2503.4,3499.0 2516.6,3512.0 2503.4,3525.0 2516.6,3538.0"/><polyline points="3012.8,3486.0 2999.6,3499.0 3012.8,3512.0 2999.6,3525.0 3012.8,3538.0"/><polyline points="3178.2,3486.0 3165.0,3499.0 3178.2,3512.0 3165.0,3525.0 3178.2,3538.0"/><polyline points="3343.6,3486.0 3330.4,3499.0 3343.6,3512.0 3330.4,3525.0 3343.6,3538.0"/><polyline points="1193.4,3538.0 1180.2,3551.0 1193.4,3564.0 1180.2,3577.0 1193.4,3590.0 1180.2,3603.0"/></g><polygon fill="#231f20" stroke="none" points="119.1,650.4 137.2,632 158,632 147.5,643.1 191.9,643.1 191.9,657.8 147.5,657.8 158,668.9 137.2,668.9"/><path fill="#231f20" stroke="none" d="M1143.0,3451.1 A12.9,12.6 0 0 0 1143.0,3476.3 Z"/><path fill="#231f20" stroke="none" d="M1143.0,3503.1 A12.9,12.6 0 0 0 1143.0,3528.3 Z"/><path fill="#231f20" stroke="none" d="M2567.5,3709 A12.5,11.9 0 0 0 2567.5,3732.8 Z"/><rect x="921.5" y="189.3" width="1818.2" height="226" rx="44.8" ry="44.8" fill="none" stroke="#231f20" stroke-width="4.8"/></svg>
<div class="t b w" style="top:625.18px;font-size:52px;line-height:52px;left:1830.00px;transform-origin:0 0;transform:scaleX(0.971);">Montag - Freitag</div>
<div class="t b w" style="top:625.18px;font-size:52px;line-height:52px;left:3245.50px;transform-origin:0 0;transform:scaleX(0.971);">Samstag</div>
<div class="t" style="top:694.01px;font-size:50.2px;line-height:50.2px;left:119.60px;transform-origin:0 0;transform:scaleX(1.002);">Kurs</div>
<div class="t" style="top:746.51px;font-size:50.2px;line-height:50.2px;left:120.60px;transform-origin:0 0;transform:scaleX(0.9965);">VERKEHRSHINWEIS</div>
<div class="t" style="top:695.69px;font-size:48.8px;line-height:48.8px;left:795.20px;width:800px;text-align:center;transform-origin:50% 0;transform:scaleX(1.0242);">102</div>
<div class="t w" style="top:746.91px;font-size:50.2px;line-height:50.2px;left:794.70px;width:800px;text-align:center;transform-origin:50% 0;transform:scaleX(1.002);">S</div>
<div class="t" style="top:695.69px;font-size:48.8px;line-height:48.8px;left:960.60px;width:800px;text-align:center;transform-origin:50% 0;transform:scaleX(1.0242);">104</div>
<div class="t w" style="top:746.91px;font-size:50.2px;line-height:50.2px;left:960.10px;width:800px;text-align:center;transform-origin:50% 0;transform:scaleX(1.002);">F</div>
<div class="t" style="top:695.69px;font-size:48.8px;line-height:48.8px;left:1126.00px;width:800px;text-align:center;transform-origin:50% 0;transform:scaleX(1.0242);">106</div>
<div class="t w" style="top:746.91px;font-size:50.2px;line-height:50.2px;left:1125.50px;width:800px;text-align:center;transform-origin:50% 0;transform:scaleX(1.002);">S</div>
<div class="t" style="top:695.69px;font-size:48.8px;line-height:48.8px;left:1291.40px;width:800px;text-align:center;transform-origin:50% 0;transform:scaleX(1.0242);">106</div>
<div class="t w" style="top:746.91px;font-size:50.2px;line-height:50.2px;left:1290.90px;width:800px;text-align:center;transform-origin:50% 0;transform:scaleX(1.002);">F</div>
<div class="t" style="top:695.69px;font-size:48.8px;line-height:48.8px;left:1456.80px;width:800px;text-align:center;transform-origin:50% 0;transform:scaleX(1.0242);">222</div>
<div class="t w" style="top:746.91px;font-size:50.2px;line-height:50.2px;left:1456.30px;width:800px;text-align:center;transform-origin:50% 0;transform:scaleX(1.002);">S</div>
<div class="t" style="top:695.69px;font-size:48.8px;line-height:48.8px;left:1622.20px;width:800px;text-align:center;transform-origin:50% 0;transform:scaleX(1.0242);">116</div>
<div class="t" style="top:695.69px;font-size:48.8px;line-height:48.8px;left:1787.60px;width:800px;text-align:center;transform-origin:50% 0;transform:scaleX(1.0242);">224</div>
<div class="t w" style="top:746.91px;font-size:50.2px;line-height:50.2px;left:1787.10px;width:800px;text-align:center;transform-origin:50% 0;transform:scaleX(1.002);">S</div>
<div class="t" style="top:695.69px;font-size:48.8px;line-height:48.8px;left:1953.00px;width:800px;text-align:center;transform-origin:50% 0;transform:scaleX(1.0242);">118</div>
<div class="t" style="top:695.69px;font-size:48.8px;line-height:48.8px;left:2118.40px;width:800px;text-align:center;transform-origin:50% 0;transform:scaleX(1.0242);">124</div>
<div class="t" style="top:695.69px;font-size:48.8px;line-height:48.8px;left:2614.60px;width:800px;text-align:center;transform-origin:50% 0;transform:scaleX(1.0242);">606</div>
<div class="t" style="top:695.69px;font-size:48.8px;line-height:48.8px;left:2780.00px;width:800px;text-align:center;transform-origin:50% 0;transform:scaleX(1.0242);">614</div>
<div class="t" style="top:695.69px;font-size:48.8px;line-height:48.8px;left:2945.40px;width:800px;text-align:center;transform-origin:50% 0;transform:scaleX(1.0242);">622</div>
<div class="t w" style="top:746.91px;font-size:50.2px;line-height:50.2px;left:2944.90px;width:800px;text-align:center;transform-origin:50% 0;transform:scaleX(1.002);">HS</div>
<div class="t i" style="top:819.51px;font-size:50.2px;line-height:50.2px;left:122.60px;transform-origin:0 0;transform:scaleX(0.986);">39 Oberstaufen, Bahnhof</div>
<div class="t i" style="top:819.51px;font-size:50.2px;line-height:50.2px;left:-106.50px;width:1200px;text-align:right;transform-origin:100% 0;transform:scaleX(1.002);">ab</div>
<div class="t i" style="top:820.69px;font-size:48.8px;line-height:48.8px;left:795.70px;width:800px;text-align:center;transform-origin:50% 0;transform:scaleX(1.0242);">06.06</div>
<div class="t i" style="top:820.69px;font-size:48.8px;line-height:48.8px;left:961.10px;width:800px;text-align:center;transform-origin:50% 0;transform:scaleX(1.0242);">06.06</div>
<div class="t i" style="top:820.69px;font-size:48.8px;line-height:48.8px;left:1291.90px;width:800px;text-align:center;transform-origin:50% 0;transform:scaleX(1.0242);">09.18</div>
<div class="t i" style="top:820.69px;font-size:48.8px;line-height:48.8px;left:1622.70px;width:800px;text-align:center;transform-origin:50% 0;transform:scaleX(1.0242);">14.18</div>
<div class="t i" style="top:820.69px;font-size:48.8px;line-height:48.8px;left:1953.50px;width:800px;text-align:center;transform-origin:50% 0;transform:scaleX(1.0242);">15.18</div>
<div class="t i" style="top:820.69px;font-size:48.8px;line-height:48.8px;left:2118.90px;width:800px;text-align:center;transform-origin:50% 0;transform:scaleX(1.0242);">16.18</div>
<div class="t i" style="top:820.69px;font-size:48.8px;line-height:48.8px;left:2615.10px;width:800px;text-align:center;transform-origin:50% 0;transform:scaleX(1.0242);">09.18</div>
<div class="t i" style="top:820.69px;font-size:48.8px;line-height:48.8px;left:2780.50px;width:800px;text-align:center;transform-origin:50% 0;transform:scaleX(1.0242);">13.18</div>
<div class="t i" style="top:871.51px;font-size:50.2px;line-height:50.2px;left:122.60px;transform-origin:0 0;transform:scaleX(0.986);">39 Ratholz, Alpsee Bergwelt</div>
<div class="t i" style="top:871.51px;font-size:50.2px;line-height:50.2px;left:-106.50px;width:1200px;text-align:right;transform-origin:100% 0;transform:scaleX(1.002);">ab</div>
<div class="t i" style="top:872.69px;font-size:48.8px;line-height:48.8px;left:795.70px;width:800px;text-align:center;transform-origin:50% 0;transform:scaleX(1.0242);">06.26</div>
<div class="t i" style="top:872.69px;font-size:48.8px;line-height:48.8px;left:961.10px;width:800px;text-align:center;transform-origin:50% 0;transform:scaleX(1.0242);">06.26</div>
<div class="t i" style="top:872.69px;font-size:48.8px;line-height:48.8px;left:1291.90px;width:800px;text-align:center;transform-origin:50% 0;transform:scaleX(1.0242);">09.41</div>
<div class="t i" style="top:872.69px;font-size:48.8px;line-height:48.8px;left:1622.70px;width:800px;text-align:center;transform-origin:50% 0;transform:scaleX(1.0242);">14.41</div>
<div class="t i" style="top:872.69px;font-size:48.8px;line-height:48.8px;left:1953.50px;width:800px;text-align:center;transform-origin:50% 0;transform:scaleX(1.0242);">15.41</div>
<div class="t i" style="top:872.69px;font-size:48.8px;line-height:48.8px;left:2118.90px;width:800px;text-align:center;transform-origin:50% 0;transform:scaleX(1.0242);">16.41</div>
<div class="t i" style="top:872.69px;font-size:48.8px;line-height:48.8px;left:2615.10px;width:800px;text-align:center;transform-origin:50% 0;transform:scaleX(1.0242);">09.41</div>
<div class="t i" style="top:872.69px;font-size:48.8px;line-height:48.8px;left:2780.50px;width:800px;text-align:center;transform-origin:50% 0;transform:scaleX(1.0242);">13.41</div>
<div class="t i" style="top:923.51px;font-size:50.2px;line-height:50.2px;left:122.60px;transform-origin:0 0;transform:scaleX(0.986);">39 Immenstadt, Bahnhof</div>
<div class="t i" style="top:923.51px;font-size:50.2px;line-height:50.2px;left:-106.50px;width:1200px;text-align:right;transform-origin:100% 0;transform:scaleX(1.002);">an</div>
<div class="t i" style="top:924.69px;font-size:48.8px;line-height:48.8px;left:795.70px;width:800px;text-align:center;transform-origin:50% 0;transform:scaleX(1.0242);">06.40</div>
<div class="t i" style="top:924.69px;font-size:48.8px;line-height:48.8px;left:961.10px;width:800px;text-align:center;transform-origin:50% 0;transform:scaleX(1.0242);">06.40</div>
<div class="t i" style="top:924.69px;font-size:48.8px;line-height:48.8px;left:1291.90px;width:800px;text-align:center;transform-origin:50% 0;transform:scaleX(1.0242);">09.55</div>
<div class="t i" style="top:924.69px;font-size:48.8px;line-height:48.8px;left:1622.70px;width:800px;text-align:center;transform-origin:50% 0;transform:scaleX(1.0242);">14.55</div>
<div class="t i" style="top:924.69px;font-size:48.8px;line-height:48.8px;left:1953.50px;width:800px;text-align:center;transform-origin:50% 0;transform:scaleX(1.0242);">15.55</div>
<div class="t i" style="top:924.69px;font-size:48.8px;line-height:48.8px;left:2118.90px;width:800px;text-align:center;transform-origin:50% 0;transform:scaleX(1.0242);">16.55</div>
<div class="t i" style="top:924.69px;font-size:48.8px;line-height:48.8px;left:2615.10px;width:800px;text-align:center;transform-origin:50% 0;transform:scaleX(1.0242);">09.55</div>
<div class="t i" style="top:924.69px;font-size:48.8px;line-height:48.8px;left:2780.50px;width:800px;text-align:center;transform-origin:50% 0;transform:scaleX(1.0242);">13.55</div>
<div class="t" style="top:988.51px;font-size:50.2px;line-height:50.2px;left:119.60px;transform-origin:0 0;transform:scaleX(1.002);">Immenstadt, Bahnhof</div>
<div class="t" style="top:989.69px;font-size:48.8px;line-height:48.8px;left:795.20px;width:800px;text-align:center;transform-origin:50% 0;transform:scaleX(1.0242);">06.45</div>
<div class="t" style="top:989.69px;font-size:48.8px;line-height:48.8px;left:960.60px;width:800px;text-align:center;transform-origin:50% 0;transform:scaleX(1.0242);">06.45</div>
<div class="t" style="top:989.69px;font-size:48.8px;line-height:48.8px;left:1126.00px;width:800px;text-align:center;transform-origin:50% 0;transform:scaleX(1.0242);">08.22</div>
<div class="t" style="top:989.69px;font-size:48.8px;line-height:48.8px;left:1291.40px;width:800px;text-align:center;transform-origin:50% 0;transform:scaleX(1.0242);">10.15</div>
<div class="t" style="top:989.69px;font-size:48.8px;line-height:48.8px;left:1622.20px;width:800px;text-align:center;transform-origin:50% 0;transform:scaleX(1.0242);">15.15</div>
<div class="t" style="top:989.69px;font-size:48.8px;line-height:48.8px;left:1953.00px;width:800px;text-align:center;transform-origin:50% 0;transform:scaleX(1.0242);">16.15</div>
<div class="t" style="top:989.69px;font-size:48.8px;line-height:48.8px;left:2118.40px;width:800px;text-align:center;transform-origin:50% 0;transform:scaleX(1.0242);">17.15</div>
<div class="t" style="top:989.69px;font-size:48.8px;line-height:48.8px;left:2614.60px;width:800px;text-align:center;transform-origin:50% 0;transform:scaleX(1.0242);">10.15</div>
<div class="t" style="top:989.69px;font-size:48.8px;line-height:48.8px;left:2780.00px;width:800px;text-align:center;transform-origin:50% 0;transform:scaleX(1.0242);">14.10</div>
<div class="t" style="top:989.69px;font-size:48.8px;line-height:48.8px;left:2945.40px;width:800px;text-align:center;transform-origin:50% 0;transform:scaleX(1.0242);">18.55</div>
<div class="t" style="top:1040.48px;font-size:50.2px;line-height:50.2px;left:119.60px;transform-origin:0 0;transform:scaleX(1.002);">- Jahnstraße</div>
<div class="t" style="top:1041.66px;font-size:48.8px;line-height:48.8px;left:795.20px;width:800px;text-align:center;transform-origin:50% 0;transform:scaleX(1.0242);">06.47</div>
<div class="t" style="top:1041.66px;font-size:48.8px;line-height:48.8px;left:960.60px;width:800px;text-align:center;transform-origin:50% 0;transform:scaleX(1.0242);">06.47</div>
<div class="t" style="top:1041.66px;font-size:48.8px;line-height:48.8px;left:1126.00px;width:800px;text-align:center;transform-origin:50% 0;transform:scaleX(1.0242);">08.24</div>
<div class="t" style="top:1041.66px;font-size:48.8px;line-height:48.8px;left:1291.40px;width:800px;text-align:center;transform-origin:50% 0;transform:scaleX(1.0242);">10.17</div>
<div class="t" style="top:1041.66px;font-size:48.8px;line-height:48.8px;left:1622.20px;width:800px;text-align:center;transform-origin:50% 0;transform:scaleX(1.0242);">15.17</div>
<div class="t" style="top:1041.66px;font-size:48.8px;line-height:48.8px;left:1953.00px;width:800px;text-align:center;transform-origin:50% 0;transform:scaleX(1.0242);">16.17</div>
<div class="t" style="top:1041.66px;font-size:48.8px;line-height:48.8px;left:2118.40px;width:800px;text-align:center;transform-origin:50% 0;transform:scaleX(1.0242);">17.17</div>
<div class="t" style="top:1041.66px;font-size:48.8px;line-height:48.8px;left:2614.60px;width:800px;text-align:center;transform-origin:50% 0;transform:scaleX(1.0242);">10.17</div>
<div class="t" style="top:1041.66px;font-size:48.8px;line-height:48.8px;left:2780.00px;width:800px;text-align:center;transform-origin:50% 0;transform:scaleX(1.0242);">14.12</div>
<div class="t" style="top:1041.66px;font-size:48.8px;line-height:48.8px;left:2945.40px;width:800px;text-align:center;transform-origin:50% 0;transform:scaleX(1.0242);">18.57</div>
<div class="t" style="top:1092.45px;font-size:50.2px;line-height:50.2px;left:119.60px;transform-origin:0 0;transform:scaleX(1.002);">- Kemptener Str. Feuerwehr</div>
<div class="t" style="top:1093.63px;font-size:48.8px;line-height:48.8px;left:795.20px;width:800px;text-align:center;transform-origin:50% 0;transform:scaleX(1.0242);">06.48</div>
<div class="t" style="top:1093.63px;font-size:48.8px;line-height:48.8px;left:960.60px;width:800px;text-align:center;transform-origin:50% 0;transform:scaleX(1.0242);">06.48</div>
<div class="t" style="top:1093.63px;font-size:48.8px;line-height:48.8px;left:1126.00px;width:800px;text-align:center;transform-origin:50% 0;transform:scaleX(1.0242);">08.25</div>
<div class="t" style="top:1093.63px;font-size:48.8px;line-height:48.8px;left:1291.40px;width:800px;text-align:center;transform-origin:50% 0;transform:scaleX(1.0242);">10.18</div>
<div class="t" style="top:1093.63px;font-size:48.8px;line-height:48.8px;left:1622.20px;width:800px;text-align:center;transform-origin:50% 0;transform:scaleX(1.0242);">15.18</div>
<div class="t" style="top:1093.63px;font-size:48.8px;line-height:48.8px;left:1953.00px;width:800px;text-align:center;transform-origin:50% 0;transform:scaleX(1.0242);">16.18</div>
<div class="t" style="top:1093.63px;font-size:48.8px;line-height:48.8px;left:2118.40px;width:800px;text-align:center;transform-origin:50% 0;transform:scaleX(1.0242);">17.18</div>
<div class="t" style="top:1093.63px;font-size:48.8px;line-height:48.8px;left:2614.60px;width:800px;text-align:center;transform-origin:50% 0;transform:scaleX(1.0242);">10.18</div>
<div class="t" style="top:1093.63px;font-size:48.8px;line-height:48.8px;left:2780.00px;width:800px;text-align:center;transform-origin:50% 0;transform:scaleX(1.0242);">14.13</div>
<div class="t" style="top:1093.63px;font-size:48.8px;line-height:48.8px;left:2945.40px;width:800px;text-align:center;transform-origin:50% 0;transform:scaleX(1.0242);">18.58</div>
<div class="t" style="top:1144.42px;font-size:50.2px;line-height:50.2px;left:119.60px;transform-origin:0 0;transform:scaleX(1.002);">- Kreisverkehr Nord</div>
<div class="t" style="top:1145.60px;font-size:48.8px;line-height:48.8px;left:795.20px;width:800px;text-align:center;transform-origin:50% 0;transform:scaleX(1.0242);">06.50</div>
<div class="t" style="top:1145.60px;font-size:48.8px;line-height:48.8px;left:960.60px;width:800px;text-align:center;transform-origin:50% 0;transform:scaleX(1.0242);">06.50</div>
<div class="t" style="top:1145.60px;font-size:48.8px;line-height:48.8px;left:1126.00px;width:800px;text-align:center;transform-origin:50% 0;transform:scaleX(1.0242);">08.27</div>
<div class="t" style="top:1145.60px;font-size:48.8px;line-height:48.8px;left:1291.40px;width:800px;text-align:center;transform-origin:50% 0;transform:scaleX(1.0242);">10.20</div>
<div class="t" style="top:1145.60px;font-size:48.8px;line-height:48.8px;left:1622.20px;width:800px;text-align:center;transform-origin:50% 0;transform:scaleX(1.0242);">15.20</div>
<div class="t" style="top:1145.60px;font-size:48.8px;line-height:48.8px;left:1953.00px;width:800px;text-align:center;transform-origin:50% 0;transform:scaleX(1.0242);">16.20</div>
<div class="t" style="top:1145.60px;font-size:48.8px;line-height:48.8px;left:2118.40px;width:800px;text-align:center;transform-origin:50% 0;transform:scaleX(1.0242);">17.20</div>
<div class="t" style="top:1145.60px;font-size:48.8px;line-height:48.8px;left:2614.60px;width:800px;text-align:center;transform-origin:50% 0;transform:scaleX(1.0242);">10.20</div>
<div class="t" style="top:1145.60px;font-size:48.8px;line-height:48.8px;left:2780.00px;width:800px;text-align:center;transform-origin:50% 0;transform:scaleX(1.0242);">14.15</div>
<div class="t" style="top:1145.60px;font-size:48.8px;line-height:48.8px;left:2945.40px;width:800px;text-align:center;transform-origin:50% 0;transform:scaleX(1.0242);">19.00</div>
<div class="t" style="top:1196.39px;font-size:50.2px;line-height:50.2px;left:119.60px;transform-origin:0 0;transform:scaleX(1.002);">Stein, B19</div>
<div class="t" style="top:1197.57px;font-size:48.8px;line-height:48.8px;left:795.20px;width:800px;text-align:center;transform-origin:50% 0;transform:scaleX(1.0242);">06.51</div>
<div class="t" style="top:1197.57px;font-size:48.8px;line-height:48.8px;left:960.60px;width:800px;text-align:center;transform-origin:50% 0;transform:scaleX(1.0242);">06.51</div>
<div class="t" style="top:1197.57px;font-size:48.8px;line-height:48.8px;left:1126.00px;width:800px;text-align:center;transform-origin:50% 0;transform:scaleX(1.0242);">08.28</div>
<div class="t" style="top:1197.57px;font-size:48.8px;line-height:48.8px;left:1291.40px;width:800px;text-align:center;transform-origin:50% 0;transform:scaleX(1.0242);">10.21</div>
<div class="t" style="top:1197.57px;font-size:48.8px;line-height:48.8px;left:1622.20px;width:800px;text-align:center;transform-origin:50% 0;transform:scaleX(1.0242);">15.21</div>
<div class="t" style="top:1197.57px;font-size:48.8px;line-height:48.8px;left:1953.00px;width:800px;text-align:center;transform-origin:50% 0;transform:scaleX(1.0242);">16.21</div>
<div class="t" style="top:1197.57px;font-size:48.8px;line-height:48.8px;left:2118.40px;width:800px;text-align:center;transform-origin:50% 0;transform:scaleX(1.0242);">17.21</div>
<div class="t" style="top:1197.57px;font-size:48.8px;line-height:48.8px;left:2614.60px;width:800px;text-align:center;transform-origin:50% 0;transform:scaleX(1.0242);">10.21</div>
<div class="t" style="top:1197.57px;font-size:48.8px;line-height:48.8px;left:2780.00px;width:800px;text-align:center;transform-origin:50% 0;transform:scaleX(1.0242);">14.16</div>
<div class="t" style="top:1197.57px;font-size:48.8px;line-height:48.8px;left:2945.40px;width:800px;text-align:center;transform-origin:50% 0;transform:scaleX(1.0242);">19.01</div>
<div class="t" style="top:1264.96px;font-size:50.2px;line-height:50.2px;left:119.60px;transform-origin:0 0;transform:scaleX(1.002);">Bräunlings, Abzw.</div>
<div class="t" style="top:1266.14px;font-size:48.8px;line-height:48.8px;left:795.20px;width:800px;text-align:center;transform-origin:50% 0;transform:scaleX(1.0242);">06.53</div>
<div class="t" style="top:1266.14px;font-size:48.8px;line-height:48.8px;left:960.60px;width:800px;text-align:center;transform-origin:50% 0;transform:scaleX(1.0242);">06.52</div>
<div class="t" style="top:1266.14px;font-size:48.8px;line-height:48.8px;left:1126.00px;width:800px;text-align:center;transform-origin:50% 0;transform:scaleX(1.0242);">08.29</div>
<div class="t" style="top:1266.14px;font-size:48.8px;line-height:48.8px;left:1291.40px;width:800px;text-align:center;transform-origin:50% 0;transform:scaleX(1.0242);">10.22</div>
<div class="t" style="top:1266.14px;font-size:48.8px;line-height:48.8px;left:1622.20px;width:800px;text-align:center;transform-origin:50% 0;transform:scaleX(1.0242);">15.22</div>
<div class="t" style="top:1266.14px;font-size:48.8px;line-height:48.8px;left:1953.00px;width:800px;text-align:center;transform-origin:50% 0;transform:scaleX(1.0242);">16.22</div>
<div class="t" style="top:1266.14px;font-size:48.8px;line-height:48.8px;left:2118.40px;width:800px;text-align:center;transform-origin:50% 0;transform:scaleX(1.0242);">17.22</div>
<div class="t" style="top:1266.14px;font-size:48.8px;line-height:48.8px;left:2614.60px;width:800px;text-align:center;transform-origin:50% 0;transform:scaleX(1.0242);">10.22</div>
<div class="t" style="top:1266.14px;font-size:48.8px;line-height:48.8px;left:2780.00px;width:800px;text-align:center;transform-origin:50% 0;transform:scaleX(1.0242);">14.17</div>
<div class="t" style="top:1266.14px;font-size:48.8px;line-height:48.8px;left:2945.40px;width:800px;text-align:center;transform-origin:50% 0;transform:scaleX(1.0242);">19.02</div>
<div class="t" style="top:1316.93px;font-size:50.2px;line-height:50.2px;left:119.60px;transform-origin:0 0;transform:scaleX(1.002);">Seifen, R.-Bosch-Werk</div>
<div class="t" style="top:1318.11px;font-size:48.8px;line-height:48.8px;left:795.20px;width:800px;text-align:center;transform-origin:50% 0;transform:scaleX(1.0242);">06.55</div>
<div class="t" style="top:1318.11px;font-size:48.8px;line-height:48.8px;left:960.60px;width:800px;text-align:center;transform-origin:50% 0;transform:scaleX(1.0242);">06.52</div>
<div class="t" style="top:1318.11px;font-size:48.8px;line-height:48.8px;left:1622.20px;width:800px;text-align:center;transform-origin:50% 0;transform:scaleX(1.0242);">15.25</div>
<div class="t" style="top:1318.11px;font-size:48.8px;line-height:48.8px;left:1953.00px;width:800px;text-align:center;transform-origin:50% 0;transform:scaleX(1.0242);">16.24</div>
<div class="t" style="top:1368.90px;font-size:50.2px;line-height:50.2px;left:119.60px;transform-origin:0 0;transform:scaleX(1.002);">- Bosch-Werk Abzw.</div>
<div class="t" style="top:1370.08px;font-size:48.8px;line-height:48.8px;left:795.20px;width:800px;text-align:center;transform-origin:50% 0;transform:scaleX(1.0242);">06.55</div>
<div class="t" style="top:1370.08px;font-size:48.8px;line-height:48.8px;left:960.60px;width:800px;text-align:center;transform-origin:50% 0;transform:scaleX(1.0242);">06.53</div>
<div class="t" style="top:1370.08px;font-size:48.8px;line-height:48.8px;left:1126.00px;width:800px;text-align:center;transform-origin:50% 0;transform:scaleX(1.0242);">08.30</div>
<div class="t" style="top:1370.08px;font-size:48.8px;line-height:48.8px;left:1291.40px;width:800px;text-align:center;transform-origin:50% 0;transform:scaleX(1.0242);">10.23</div>
<div class="t" style="top:1370.08px;font-size:48.8px;line-height:48.8px;left:1622.20px;width:800px;text-align:center;transform-origin:50% 0;transform:scaleX(1.0242);">15.26</div>
<div class="t" style="top:1370.08px;font-size:48.8px;line-height:48.8px;left:1953.00px;width:800px;text-align:center;transform-origin:50% 0;transform:scaleX(1.0242);">16.25</div>
<div class="t" style="top:1370.08px;font-size:48.8px;line-height:48.8px;left:2118.40px;width:800px;text-align:center;transform-origin:50% 0;transform:scaleX(1.0242);">17.23</div>
<div class="t" style="top:1370.08px;font-size:48.8px;line-height:48.8px;left:2614.60px;width:800px;text-align:center;transform-origin:50% 0;transform:scaleX(1.0242);">10.23</div>
<div class="t" style="top:1370.08px;font-size:48.8px;line-height:48.8px;left:2780.00px;width:800px;text-align:center;transform-origin:50% 0;transform:scaleX(1.0242);">14.18</div>
<div class="t" style="top:1370.08px;font-size:48.8px;line-height:48.8px;left:2945.40px;width:800px;text-align:center;transform-origin:50% 0;transform:scaleX(1.0242);">19.03</div>
<div class="t" style="top:1420.87px;font-size:50.2px;line-height:50.2px;left:119.60px;transform-origin:0 0;transform:scaleX(1.002);">- Gewerbegebiet</div>
<div class="t" style="top:1422.05px;font-size:48.8px;line-height:48.8px;left:795.20px;width:800px;text-align:center;transform-origin:50% 0;transform:scaleX(1.0242);">06.55</div>
<div class="t" style="top:1422.05px;font-size:48.8px;line-height:48.8px;left:960.60px;width:800px;text-align:center;transform-origin:50% 0;transform:scaleX(1.0242);">06.53</div>
<div class="t" style="top:1422.05px;font-size:48.8px;line-height:48.8px;left:1126.00px;width:800px;text-align:center;transform-origin:50% 0;transform:scaleX(1.0242);">08.30</div>
<div class="t" style="top:1422.05px;font-size:48.8px;line-height:48.8px;left:1291.40px;width:800px;text-align:center;transform-origin:50% 0;transform:scaleX(1.0242);">10.23</div>
<div class="t" style="top:1422.05px;font-size:48.8px;line-height:48.8px;left:1622.20px;width:800px;text-align:center;transform-origin:50% 0;transform:scaleX(1.0242);">15.26</div>
<div class="t" style="top:1422.05px;font-size:48.8px;line-height:48.8px;left:1953.00px;width:800px;text-align:center;transform-origin:50% 0;transform:scaleX(1.0242);">16.26</div>
<div class="t" style="top:1422.05px;font-size:48.8px;line-height:48.8px;left:2118.40px;width:800px;text-align:center;transform-origin:50% 0;transform:scaleX(1.0242);">17.23</div>
<div class="t" style="top:1422.05px;font-size:48.8px;line-height:48.8px;left:2614.60px;width:800px;text-align:center;transform-origin:50% 0;transform:scaleX(1.0242);">10.23</div>
<div class="t" style="top:1422.05px;font-size:48.8px;line-height:48.8px;left:2780.00px;width:800px;text-align:center;transform-origin:50% 0;transform:scaleX(1.0242);">14.18</div>
<div class="t" style="top:1422.05px;font-size:48.8px;line-height:48.8px;left:2945.40px;width:800px;text-align:center;transform-origin:50% 0;transform:scaleX(1.0242);">19.03</div>
<div class="t" style="top:1472.84px;font-size:50.2px;line-height:50.2px;left:119.60px;transform-origin:0 0;transform:scaleX(1.002);">Seifen</div>
<div class="t" style="top:1474.02px;font-size:48.8px;line-height:48.8px;left:795.20px;width:800px;text-align:center;transform-origin:50% 0;transform:scaleX(1.0242);">06.56</div>
<div class="t" style="top:1474.02px;font-size:48.8px;line-height:48.8px;left:960.60px;width:800px;text-align:center;transform-origin:50% 0;transform:scaleX(1.0242);">06.54</div>
<div class="t" style="top:1474.02px;font-size:48.8px;line-height:48.8px;left:1126.00px;width:800px;text-align:center;transform-origin:50% 0;transform:scaleX(1.0242);">08.31</div>
<div class="t" style="top:1474.02px;font-size:48.8px;line-height:48.8px;left:1291.40px;width:800px;text-align:center;transform-origin:50% 0;transform:scaleX(1.0242);">10.24</div>
<div class="t" style="top:1474.02px;font-size:48.8px;line-height:48.8px;left:1622.20px;width:800px;text-align:center;transform-origin:50% 0;transform:scaleX(1.0242);">15.27</div>
<div class="t" style="top:1474.02px;font-size:48.8px;line-height:48.8px;left:1953.00px;width:800px;text-align:center;transform-origin:50% 0;transform:scaleX(1.0242);">16.27</div>
<div class="t" style="top:1474.02px;font-size:48.8px;line-height:48.8px;left:2118.40px;width:800px;text-align:center;transform-origin:50% 0;transform:scaleX(1.0242);">17.24</div>
<div class="t" style="top:1474.02px;font-size:48.8px;line-height:48.8px;left:2614.60px;width:800px;text-align:center;transform-origin:50% 0;transform:scaleX(1.0242);">10.24</div>
<div class="t" style="top:1474.02px;font-size:48.8px;line-height:48.8px;left:2780.00px;width:800px;text-align:center;transform-origin:50% 0;transform:scaleX(1.0242);">14.19</div>
<div class="t" style="top:1474.02px;font-size:48.8px;line-height:48.8px;left:2945.40px;width:800px;text-align:center;transform-origin:50% 0;transform:scaleX(1.0242);">19.04</div>
<div class="t" style="top:1524.81px;font-size:50.2px;line-height:50.2px;left:119.60px;transform-origin:0 0;transform:scaleX(1.002);">Zellers</div>
<div class="t" style="top:1525.99px;font-size:48.8px;line-height:48.8px;left:795.20px;width:800px;text-align:center;transform-origin:50% 0;transform:scaleX(1.0242);">06.58</div>
<div class="t" style="top:1525.99px;font-size:48.8px;line-height:48.8px;left:960.60px;width:800px;text-align:center;transform-origin:50% 0;transform:scaleX(1.0242);">06.55</div>
<div class="t" style="top:1525.99px;font-size:48.8px;line-height:48.8px;left:1126.00px;width:800px;text-align:center;transform-origin:50% 0;transform:scaleX(1.0242);">08.32</div>
<div class="t" style="top:1525.99px;font-size:48.8px;line-height:48.8px;left:1291.40px;width:800px;text-align:center;transform-origin:50% 0;transform:scaleX(1.0242);">10.25</div>
<div class="t" style="top:1525.99px;font-size:48.8px;line-height:48.8px;left:1622.20px;width:800px;text-align:center;transform-origin:50% 0;transform:scaleX(1.0242);">15.28</div>
<div class="t" style="top:1525.99px;font-size:48.8px;line-height:48.8px;left:1953.00px;width:800px;text-align:center;transform-origin:50% 0;transform:scaleX(1.0242);">16.28</div>
<div class="t" style="top:1525.99px;font-size:48.8px;line-height:48.8px;left:2118.40px;width:800px;text-align:center;transform-origin:50% 0;transform:scaleX(1.0242);">17.25</div>
<div class="t" style="top:1525.99px;font-size:48.8px;line-height:48.8px;left:2614.60px;width:800px;text-align:center;transform-origin:50% 0;transform:scaleX(1.0242);">10.25</div>
<div class="t" style="top:1525.99px;font-size:48.8px;line-height:48.8px;left:2780.00px;width:800px;text-align:center;transform-origin:50% 0;transform:scaleX(1.0242);">14.20</div>
<div class="t" style="top:1525.99px;font-size:48.8px;line-height:48.8px;left:2945.40px;width:800px;text-align:center;transform-origin:50% 0;transform:scaleX(1.0242);">19.05</div>
<div class="t" style="top:1576.78px;font-size:50.2px;line-height:50.2px;left:119.60px;transform-origin:0 0;transform:scaleX(1.002);">Thanners</div>
<div class="t" style="top:1577.96px;font-size:48.8px;line-height:48.8px;left:795.20px;width:800px;text-align:center;transform-origin:50% 0;transform:scaleX(1.0242);">07.01</div>
<div class="t" style="top:1577.96px;font-size:48.8px;line-height:48.8px;left:960.60px;width:800px;text-align:center;transform-origin:50% 0;transform:scaleX(1.0242);">06.56</div>
<div class="t" style="top:1577.96px;font-size:48.8px;line-height:48.8px;left:1126.00px;width:800px;text-align:center;transform-origin:50% 0;transform:scaleX(1.0242);">08.33</div>
<div class="t" style="top:1577.96px;font-size:48.8px;line-height:48.8px;left:1291.40px;width:800px;text-align:center;transform-origin:50% 0;transform:scaleX(1.0242);">10.26</div>
<div class="t" style="top:1577.96px;font-size:48.8px;line-height:48.8px;left:1622.20px;width:800px;text-align:center;transform-origin:50% 0;transform:scaleX(1.0242);">15.29</div>
<div class="t" style="top:1577.96px;font-size:48.8px;line-height:48.8px;left:1953.00px;width:800px;text-align:center;transform-origin:50% 0;transform:scaleX(1.0242);">16.29</div>
<div class="t" style="top:1577.96px;font-size:48.8px;line-height:48.8px;left:2118.40px;width:800px;text-align:center;transform-origin:50% 0;transform:scaleX(1.0242);">17.26</div>
<div class="t" style="top:1577.96px;font-size:48.8px;line-height:48.8px;left:2614.60px;width:800px;text-align:center;transform-origin:50% 0;transform:scaleX(1.0242);">10.26</div>
<div class="t" style="top:1577.96px;font-size:48.8px;line-height:48.8px;left:2780.00px;width:800px;text-align:center;transform-origin:50% 0;transform:scaleX(1.0242);">14.21</div>
<div class="t" style="top:1577.96px;font-size:48.8px;line-height:48.8px;left:2945.40px;width:800px;text-align:center;transform-origin:50% 0;transform:scaleX(1.0242);">19.06</div>
<div class="t" style="top:1628.75px;font-size:50.2px;line-height:50.2px;left:119.60px;transform-origin:0 0;transform:scaleX(1.002);">Oberdorf, Abzw.</div>
<div class="t" style="top:1629.93px;font-size:48.8px;line-height:48.8px;left:795.20px;width:800px;text-align:center;transform-origin:50% 0;transform:scaleX(1.0242);">07.02</div>
<div class="t" style="top:1629.93px;font-size:48.8px;line-height:48.8px;left:960.60px;width:800px;text-align:center;transform-origin:50% 0;transform:scaleX(1.0242);">06.57</div>
<div class="t" style="top:1629.93px;font-size:48.8px;line-height:48.8px;left:1126.00px;width:800px;text-align:center;transform-origin:50% 0;transform:scaleX(1.0242);">08.34</div>
<div class="t" style="top:1629.93px;font-size:48.8px;line-height:48.8px;left:1291.40px;width:800px;text-align:center;transform-origin:50% 0;transform:scaleX(1.0242);">10.27</div>
<div class="t" style="top:1629.93px;font-size:48.8px;line-height:48.8px;left:1622.20px;width:800px;text-align:center;transform-origin:50% 0;transform:scaleX(1.0242);">15.30</div>
<div class="t" style="top:1629.93px;font-size:48.8px;line-height:48.8px;left:1953.00px;width:800px;text-align:center;transform-origin:50% 0;transform:scaleX(1.0242);">16.30</div>
<div class="t" style="top:1629.93px;font-size:48.8px;line-height:48.8px;left:2118.40px;width:800px;text-align:center;transform-origin:50% 0;transform:scaleX(1.0242);">17.27</div>
<div class="t" style="top:1629.93px;font-size:48.8px;line-height:48.8px;left:2614.60px;width:800px;text-align:center;transform-origin:50% 0;transform:scaleX(1.0242);">10.27</div>
<div class="t" style="top:1629.93px;font-size:48.8px;line-height:48.8px;left:2780.00px;width:800px;text-align:center;transform-origin:50% 0;transform:scaleX(1.0242);">14.22</div>
<div class="t" style="top:1629.93px;font-size:48.8px;line-height:48.8px;left:2945.40px;width:800px;text-align:center;transform-origin:50% 0;transform:scaleX(1.0242);">19.07</div>
<div class="t" style="top:1698.32px;font-size:50.2px;line-height:50.2px;left:119.60px;transform-origin:0 0;transform:scaleX(1.002);">- Raiffeisenbank</div>
<div class="t" style="top:1699.50px;font-size:48.8px;line-height:48.8px;left:960.60px;width:800px;text-align:center;transform-origin:50% 0;transform:scaleX(1.0242);">06.58</div>
<div class="t" style="top:1699.50px;font-size:48.8px;line-height:48.8px;left:1126.00px;width:800px;text-align:center;transform-origin:50% 0;transform:scaleX(1.0242);">08.35</div>
<div class="t" style="top:1699.50px;font-size:48.8px;line-height:48.8px;left:1291.40px;width:800px;text-align:center;transform-origin:50% 0;transform:scaleX(1.0242);">10.28</div>
<div class="t" style="top:1699.50px;font-size:48.8px;line-height:48.8px;left:2614.60px;width:800px;text-align:center;transform-origin:50% 0;transform:scaleX(1.0242);">10.28</div>
<div class="t" style="top:1750.29px;font-size:50.2px;line-height:50.2px;left:119.60px;transform-origin:0 0;transform:scaleX(1.002);">- Siedlung</div>
<div class="t" style="top:1751.47px;font-size:48.8px;line-height:48.8px;left:960.60px;width:800px;text-align:center;transform-origin:50% 0;transform:scaleX(1.0242);">06.59</div>
<div class="t" style="top:1751.47px;font-size:48.8px;line-height:48.8px;left:1126.00px;width:800px;text-align:center;transform-origin:50% 0;transform:scaleX(1.0242);">08.36</div>
<div class="t" style="top:1751.47px;font-size:48.8px;line-height:48.8px;left:1291.40px;width:800px;text-align:center;transform-origin:50% 0;transform:scaleX(1.0242);">10.29</div>
<div class="t" style="top:1751.47px;font-size:48.8px;line-height:48.8px;left:2614.60px;width:800px;text-align:center;transform-origin:50% 0;transform:scaleX(1.0242);">10.29</div>
<div class="t" style="top:1802.26px;font-size:50.2px;line-height:50.2px;left:119.60px;transform-origin:0 0;transform:scaleX(1.002);">- Ortsanfang</div>
<div class="t" style="top:1803.44px;font-size:48.8px;line-height:48.8px;left:960.60px;width:800px;text-align:center;transform-origin:50% 0;transform:scaleX(1.0242);">07.00</div>
<div class="t" style="top:1803.44px;font-size:48.8px;line-height:48.8px;left:1126.00px;width:800px;text-align:center;transform-origin:50% 0;transform:scaleX(1.0242);">08.37</div>
<div class="t" style="top:1803.44px;font-size:48.8px;line-height:48.8px;left:1291.40px;width:800px;text-align:center;transform-origin:50% 0;transform:scaleX(1.0242);">10.30</div>
<div class="t" style="top:1803.44px;font-size:48.8px;line-height:48.8px;left:2614.60px;width:800px;text-align:center;transform-origin:50% 0;transform:scaleX(1.0242);">10.30</div>
<div class="t" style="top:1854.23px;font-size:50.2px;line-height:50.2px;left:119.60px;transform-origin:0 0;transform:scaleX(1.002);">Abzw. Eckarts</div>
<div class="t" style="top:1855.41px;font-size:48.8px;line-height:48.8px;left:960.60px;width:800px;text-align:center;transform-origin:50% 0;transform:scaleX(1.0242);">07.02</div>
<div class="t" style="top:1855.41px;font-size:48.8px;line-height:48.8px;left:1126.00px;width:800px;text-align:center;transform-origin:50% 0;transform:scaleX(1.0242);">08.39</div>
<div class="t" style="top:1855.41px;font-size:48.8px;line-height:48.8px;left:1291.40px;width:800px;text-align:center;transform-origin:50% 0;transform:scaleX(1.0242);">10.32</div>
<div class="t" style="top:1855.41px;font-size:48.8px;line-height:48.8px;left:2614.60px;width:800px;text-align:center;transform-origin:50% 0;transform:scaleX(1.0242);">10.32</div>
<div class="t" style="top:1906.20px;font-size:50.2px;line-height:50.2px;left:119.60px;transform-origin:0 0;transform:scaleX(1.002);">Niedersonthofen, Gebhart</div>
<div class="t" style="top:1907.38px;font-size:48.8px;line-height:48.8px;left:960.60px;width:800px;text-align:center;transform-origin:50% 0;transform:scaleX(1.0242);">07.03</div>
<div class="t" style="top:1907.38px;font-size:48.8px;line-height:48.8px;left:1126.00px;width:800px;text-align:center;transform-origin:50% 0;transform:scaleX(1.0242);">08.40</div>
<div class="t" style="top:1907.38px;font-size:48.8px;line-height:48.8px;left:1291.40px;width:800px;text-align:center;transform-origin:50% 0;transform:scaleX(1.0242);">10.33</div>
<div class="t" style="top:1907.38px;font-size:48.8px;line-height:48.8px;left:2614.60px;width:800px;text-align:center;transform-origin:50% 0;transform:scaleX(1.0242);">10.33</div>
<div class="t" style="top:1958.17px;font-size:50.2px;line-height:50.2px;left:119.60px;transform-origin:0 0;transform:scaleX(1.002);">- Kirchplatz</div>
<div class="t" style="top:1959.35px;font-size:48.8px;line-height:48.8px;left:960.60px;width:800px;text-align:center;transform-origin:50% 0;transform:scaleX(1.0242);">07.05</div>
<div class="t" style="top:1959.35px;font-size:48.8px;line-height:48.8px;left:1126.00px;width:800px;text-align:center;transform-origin:50% 0;transform:scaleX(1.0242);">08.42</div>
<div class="t" style="top:1959.35px;font-size:48.8px;line-height:48.8px;left:1291.40px;width:800px;text-align:center;transform-origin:50% 0;transform:scaleX(1.0242);">10.35</div>
<div class="t" style="top:1959.35px;font-size:48.8px;line-height:48.8px;left:2614.60px;width:800px;text-align:center;transform-origin:50% 0;transform:scaleX(1.0242);">10.34</div>
<div class="t" style="top:2010.14px;font-size:50.2px;line-height:50.2px;left:119.60px;transform-origin:0 0;transform:scaleX(1.002);">- Gärtnerei</div>
<div class="t" style="top:2011.32px;font-size:48.8px;line-height:48.8px;left:960.60px;width:800px;text-align:center;transform-origin:50% 0;transform:scaleX(1.0242);">07.05</div>
<div class="t" style="top:2011.32px;font-size:48.8px;line-height:48.8px;left:1126.00px;width:800px;text-align:center;transform-origin:50% 0;transform:scaleX(1.0242);">08.42</div>
<div class="t" style="top:2011.32px;font-size:48.8px;line-height:48.8px;left:1291.40px;width:800px;text-align:center;transform-origin:50% 0;transform:scaleX(1.0242);">10.35</div>
<div class="t" style="top:2011.32px;font-size:48.8px;line-height:48.8px;left:2614.60px;width:800px;text-align:center;transform-origin:50% 0;transform:scaleX(1.0242);">10.35</div>
<div class="t" style="top:2062.11px;font-size:50.2px;line-height:50.2px;left:119.60px;transform-origin:0 0;transform:scaleX(1.002);">- Gh. Sonne</div>
<div class="t" style="top:2063.29px;font-size:48.8px;line-height:48.8px;left:960.60px;width:800px;text-align:center;transform-origin:50% 0;transform:scaleX(1.0242);">07.06</div>
<div class="t" style="top:2063.29px;font-size:48.8px;line-height:48.8px;left:1126.00px;width:800px;text-align:center;transform-origin:50% 0;transform:scaleX(1.0242);">08.43</div>
<div class="t" style="top:2063.29px;font-size:48.8px;line-height:48.8px;left:1291.40px;width:800px;text-align:center;transform-origin:50% 0;transform:scaleX(1.0242);">10.36</div>
<div class="t" style="top:2063.29px;font-size:48.8px;line-height:48.8px;left:2614.60px;width:800px;text-align:center;transform-origin:50% 0;transform:scaleX(1.0242);">10.36</div>
<div class="t" style="top:2114.08px;font-size:50.2px;line-height:50.2px;left:119.60px;transform-origin:0 0;transform:scaleX(1.002);">- See</div>
<div class="t" style="top:2115.26px;font-size:48.8px;line-height:48.8px;left:960.60px;width:800px;text-align:center;transform-origin:50% 0;transform:scaleX(1.0242);">07.06</div>
<div class="t" style="top:2115.26px;font-size:48.8px;line-height:48.8px;left:1126.00px;width:800px;text-align:center;transform-origin:50% 0;transform:scaleX(1.0242);">08.43</div>
<div class="t" style="top:2115.26px;font-size:48.8px;line-height:48.8px;left:1291.40px;width:800px;text-align:center;transform-origin:50% 0;transform:scaleX(1.0242);">10.36</div>
<div class="t" style="top:2115.26px;font-size:48.8px;line-height:48.8px;left:2614.60px;width:800px;text-align:center;transform-origin:50% 0;transform:scaleX(1.0242);">10.36</div>
<div class="t" style="top:2166.05px;font-size:50.2px;line-height:50.2px;left:119.60px;transform-origin:0 0;transform:scaleX(1.002);">Zellen</div>
<div class="t" style="top:2167.23px;font-size:48.8px;line-height:48.8px;left:960.60px;width:800px;text-align:center;transform-origin:50% 0;transform:scaleX(1.0242);">07.07</div>
<div class="t" style="top:2167.23px;font-size:48.8px;line-height:48.8px;left:1126.00px;width:800px;text-align:center;transform-origin:50% 0;transform:scaleX(1.0242);">08.44</div>
<div class="t" style="top:2167.23px;font-size:48.8px;line-height:48.8px;left:1291.40px;width:800px;text-align:center;transform-origin:50% 0;transform:scaleX(1.0242);">10.37</div>
<div class="t" style="top:2167.23px;font-size:48.8px;line-height:48.8px;left:2614.60px;width:800px;text-align:center;transform-origin:50% 0;transform:scaleX(1.0242);">10.37</div>
<div class="t" style="top:2218.02px;font-size:50.2px;line-height:50.2px;left:119.60px;transform-origin:0 0;transform:scaleX(1.002);">Memhölz, Süd</div>
<div class="t" style="top:2219.20px;font-size:48.8px;line-height:48.8px;left:960.60px;width:800px;text-align:center;transform-origin:50% 0;transform:scaleX(1.0242);">07.08</div>
<div class="t" style="top:2219.20px;font-size:48.8px;line-height:48.8px;left:1126.00px;width:800px;text-align:center;transform-origin:50% 0;transform:scaleX(1.0242);">08.45</div>
<div class="t" style="top:2219.20px;font-size:48.8px;line-height:48.8px;left:1291.40px;width:800px;text-align:center;transform-origin:50% 0;transform:scaleX(1.0242);">10.38</div>
<div class="t" style="top:2219.20px;font-size:48.8px;line-height:48.8px;left:2614.60px;width:800px;text-align:center;transform-origin:50% 0;transform:scaleX(1.0242);">10.38</div>
<div class="t" style="top:2269.99px;font-size:50.2px;line-height:50.2px;left:119.60px;transform-origin:0 0;transform:scaleX(1.002);">- Ort</div>
<div class="t" style="top:2271.17px;font-size:48.8px;line-height:48.8px;left:960.60px;width:800px;text-align:center;transform-origin:50% 0;transform:scaleX(1.0242);">07.08</div>
<div class="t" style="top:2271.17px;font-size:48.8px;line-height:48.8px;left:1126.00px;width:800px;text-align:center;transform-origin:50% 0;transform:scaleX(1.0242);">08.45</div>
<div class="t" style="top:2271.17px;font-size:48.8px;line-height:48.8px;left:1291.40px;width:800px;text-align:center;transform-origin:50% 0;transform:scaleX(1.0242);">10.38</div>
<div class="t" style="top:2271.17px;font-size:48.8px;line-height:48.8px;left:2614.60px;width:800px;text-align:center;transform-origin:50% 0;transform:scaleX(1.0242);">10.38</div>
<div class="t" style="top:2321.96px;font-size:50.2px;line-height:50.2px;left:119.60px;transform-origin:0 0;transform:scaleX(1.002);">Gerats</div>
<div class="t" style="top:2323.14px;font-size:48.8px;line-height:48.8px;left:960.60px;width:800px;text-align:center;transform-origin:50% 0;transform:scaleX(1.0242);">07.09</div>
<div class="t" style="top:2323.14px;font-size:48.8px;line-height:48.8px;left:1126.00px;width:800px;text-align:center;transform-origin:50% 0;transform:scaleX(1.0242);">08.46</div>
<div class="t" style="top:2323.14px;font-size:48.8px;line-height:48.8px;left:1291.40px;width:800px;text-align:center;transform-origin:50% 0;transform:scaleX(1.0242);">10.39</div>
<div class="t" style="top:2323.14px;font-size:48.8px;line-height:48.8px;left:2614.60px;width:800px;text-align:center;transform-origin:50% 0;transform:scaleX(1.0242);">10.39</div>
<div class="t" style="top:2373.93px;font-size:50.2px;line-height:50.2px;left:119.60px;transform-origin:0 0;transform:scaleX(1.002);">Martinszell, Abzw.</div>
<div class="t" style="top:2375.11px;font-size:48.8px;line-height:48.8px;left:795.20px;width:800px;text-align:center;transform-origin:50% 0;transform:scaleX(1.0242);">07.04</div>
<div class="t" style="top:2375.11px;font-size:48.8px;line-height:48.8px;left:1622.20px;width:800px;text-align:center;transform-origin:50% 0;transform:scaleX(1.0242);">15.31</div>
<div class="t" style="top:2375.11px;font-size:48.8px;line-height:48.8px;left:1953.00px;width:800px;text-align:center;transform-origin:50% 0;transform:scaleX(1.0242);">16.31</div>
<div class="t" style="top:2375.11px;font-size:48.8px;line-height:48.8px;left:2118.40px;width:800px;text-align:center;transform-origin:50% 0;transform:scaleX(1.0242);">17.28</div>
<div class="t" style="top:2375.11px;font-size:48.8px;line-height:48.8px;left:2780.00px;width:800px;text-align:center;transform-origin:50% 0;transform:scaleX(1.0242);">14.23</div>
<div class="t" style="top:2375.11px;font-size:48.8px;line-height:48.8px;left:2945.40px;width:800px;text-align:center;transform-origin:50% 0;transform:scaleX(1.0242);">19.08</div>
<div class="t" style="top:2425.90px;font-size:50.2px;line-height:50.2px;left:119.60px;transform-origin:0 0;transform:scaleX(1.002);">Kurzberg</div>
<div class="t" style="top:2427.08px;font-size:48.8px;line-height:48.8px;left:795.20px;width:800px;text-align:center;transform-origin:50% 0;transform:scaleX(1.0242);">07.06</div>
<div class="t" style="top:2427.08px;font-size:48.8px;line-height:48.8px;left:1622.20px;width:800px;text-align:center;transform-origin:50% 0;transform:scaleX(1.0242);">15.32</div>
<div class="t" style="top:2427.08px;font-size:48.8px;line-height:48.8px;left:1953.00px;width:800px;text-align:center;transform-origin:50% 0;transform:scaleX(1.0242);">16.32</div>
<div class="t" style="top:2427.08px;font-size:48.8px;line-height:48.8px;left:2118.40px;width:800px;text-align:center;transform-origin:50% 0;transform:scaleX(1.0242);">17.29</div>
<div class="t" style="top:2427.08px;font-size:48.8px;line-height:48.8px;left:2780.00px;width:800px;text-align:center;transform-origin:50% 0;transform:scaleX(1.0242);">14.24</div>
<div class="t" style="top:2427.08px;font-size:48.8px;line-height:48.8px;left:2945.40px;width:800px;text-align:center;transform-origin:50% 0;transform:scaleX(1.0242);">19.09</div>
<div class="t" style="top:2477.87px;font-size:50.2px;line-height:50.2px;left:119.60px;transform-origin:0 0;transform:scaleX(1.002);">Greuth</div>
<div class="t" style="top:2479.05px;font-size:48.8px;line-height:48.8px;left:795.20px;width:800px;text-align:center;transform-origin:50% 0;transform:scaleX(1.0242);">07.08</div>
<div class="t" style="top:2479.05px;font-size:48.8px;line-height:48.8px;left:1622.20px;width:800px;text-align:center;transform-origin:50% 0;transform:scaleX(1.0242);">15.34</div>
<div class="t" style="top:2479.05px;font-size:48.8px;line-height:48.8px;left:1953.00px;width:800px;text-align:center;transform-origin:50% 0;transform:scaleX(1.0242);">16.34</div>
<div class="t" style="top:2479.05px;font-size:48.8px;line-height:48.8px;left:2118.40px;width:800px;text-align:center;transform-origin:50% 0;transform:scaleX(1.0242);">17.31</div>
<div class="t" style="top:2479.05px;font-size:48.8px;line-height:48.8px;left:2780.00px;width:800px;text-align:center;transform-origin:50% 0;transform:scaleX(1.0242);">14.26</div>
<div class="t" style="top:2479.05px;font-size:48.8px;line-height:48.8px;left:2945.40px;width:800px;text-align:center;transform-origin:50% 0;transform:scaleX(1.0242);">19.11</div>
<div class="t" style="top:2529.84px;font-size:50.2px;line-height:50.2px;left:119.60px;transform-origin:0 0;transform:scaleX(1.002);">Herzmanns</div>
<div class="t" style="top:2531.02px;font-size:48.8px;line-height:48.8px;left:795.20px;width:800px;text-align:center;transform-origin:50% 0;transform:scaleX(1.0242);">07.10</div>
<div class="t" style="top:2531.02px;font-size:48.8px;line-height:48.8px;left:1622.20px;width:800px;text-align:center;transform-origin:50% 0;transform:scaleX(1.0242);">15.35</div>
<div class="t" style="top:2531.02px;font-size:48.8px;line-height:48.8px;left:1953.00px;width:800px;text-align:center;transform-origin:50% 0;transform:scaleX(1.0242);">16.35</div>
<div class="t" style="top:2531.02px;font-size:48.8px;line-height:48.8px;left:2118.40px;width:800px;text-align:center;transform-origin:50% 0;transform:scaleX(1.0242);">17.32</div>
<div class="t" style="top:2531.02px;font-size:48.8px;line-height:48.8px;left:2780.00px;width:800px;text-align:center;transform-origin:50% 0;transform:scaleX(1.0242);">14.28</div>
<div class="t" style="top:2531.02px;font-size:48.8px;line-height:48.8px;left:2945.40px;width:800px;text-align:center;transform-origin:50% 0;transform:scaleX(1.0242);">19.13</div>
<div class="t" style="top:2581.81px;font-size:50.2px;line-height:50.2px;left:119.60px;transform-origin:0 0;transform:scaleX(1.002);">Kuhnen</div>
<div class="t" style="top:2582.99px;font-size:48.8px;line-height:48.8px;left:795.20px;width:800px;text-align:center;transform-origin:50% 0;transform:scaleX(1.0242);">07.12</div>
<div class="t" style="top:2582.99px;font-size:48.8px;line-height:48.8px;left:960.60px;width:800px;text-align:center;transform-origin:50% 0;transform:scaleX(1.0242);">07.11</div>
<div class="t" style="top:2582.99px;font-size:48.8px;line-height:48.8px;left:1126.00px;width:800px;text-align:center;transform-origin:50% 0;transform:scaleX(1.0242);">08.48</div>
<div class="t" style="top:2582.99px;font-size:48.8px;line-height:48.8px;left:1291.40px;width:800px;text-align:center;transform-origin:50% 0;transform:scaleX(1.0242);">10.41</div>
<div class="t" style="top:2582.99px;font-size:48.8px;line-height:48.8px;left:1622.20px;width:800px;text-align:center;transform-origin:50% 0;transform:scaleX(1.0242);">15.36</div>
<div class="t" style="top:2582.99px;font-size:48.8px;line-height:48.8px;left:1953.00px;width:800px;text-align:center;transform-origin:50% 0;transform:scaleX(1.0242);">16.36</div>
<div class="t" style="top:2582.99px;font-size:48.8px;line-height:48.8px;left:2118.40px;width:800px;text-align:center;transform-origin:50% 0;transform:scaleX(1.0242);">17.33</div>
<div class="t" style="top:2582.99px;font-size:48.8px;line-height:48.8px;left:2614.60px;width:800px;text-align:center;transform-origin:50% 0;transform:scaleX(1.0242);">10.41</div>
<div class="t" style="top:2582.99px;font-size:48.8px;line-height:48.8px;left:2780.00px;width:800px;text-align:center;transform-origin:50% 0;transform:scaleX(1.0242);">14.29</div>
<div class="t" style="top:2582.99px;font-size:48.8px;line-height:48.8px;left:2945.40px;width:800px;text-align:center;transform-origin:50% 0;transform:scaleX(1.0242);">19.14</div>
<div class="t" style="top:2633.78px;font-size:50.2px;line-height:50.2px;left:119.60px;transform-origin:0 0;transform:scaleX(1.002);">Waltenhofen, B19</div>
<div class="t" style="top:2634.96px;font-size:48.8px;line-height:48.8px;left:960.60px;width:800px;text-align:center;transform-origin:50% 0;transform:scaleX(1.0242);">07.12</div>
<div class="t" style="top:2634.96px;font-size:48.8px;line-height:48.8px;left:1622.20px;width:800px;text-align:center;transform-origin:50% 0;transform:scaleX(1.0242);">15.38</div>
<div class="t" style="top:2634.96px;font-size:48.8px;line-height:48.8px;left:1953.00px;width:800px;text-align:center;transform-origin:50% 0;transform:scaleX(1.0242);">16.38</div>
<div class="t" style="top:2634.96px;font-size:48.8px;line-height:48.8px;left:2118.40px;width:800px;text-align:center;transform-origin:50% 0;transform:scaleX(1.0242);">17.34</div>
<div class="t" style="top:2634.96px;font-size:48.8px;line-height:48.8px;left:2780.00px;width:800px;text-align:center;transform-origin:50% 0;transform:scaleX(1.0242);">14.30</div>
<div class="t" style="top:2634.96px;font-size:48.8px;line-height:48.8px;left:2945.40px;width:800px;text-align:center;transform-origin:50% 0;transform:scaleX(1.0242);">19.15</div>
<div class="t" style="top:2702.35px;font-size:50.2px;line-height:50.2px;left:119.60px;transform-origin:0 0;transform:scaleX(1.002);">- Kirche</div>
<div class="t" style="top:2703.53px;font-size:48.8px;line-height:48.8px;left:795.20px;width:800px;text-align:center;transform-origin:50% 0;transform:scaleX(1.0242);">07.13</div>
<div class="t" style="top:2703.53px;font-size:48.8px;line-height:48.8px;left:1126.00px;width:800px;text-align:center;transform-origin:50% 0;transform:scaleX(1.0242);">08.50</div>
<div class="t" style="top:2703.53px;font-size:48.8px;line-height:48.8px;left:1291.40px;width:800px;text-align:center;transform-origin:50% 0;transform:scaleX(1.0242);">10.43</div>
<div class="t" style="top:2703.53px;font-size:48.8px;line-height:48.8px;left:2614.60px;width:800px;text-align:center;transform-origin:50% 0;transform:scaleX(1.0242);">10.43</div>
<div class="t" style="top:2754.32px;font-size:50.2px;line-height:50.2px;left:119.60px;transform-origin:0 0;transform:scaleX(1.002);">- Fischener Str.</div>
<div class="t" style="top:2755.50px;font-size:48.8px;line-height:48.8px;left:795.20px;width:800px;text-align:center;transform-origin:50% 0;transform:scaleX(1.0242);">07.14</div>
<div class="t" style="top:2755.50px;font-size:48.8px;line-height:48.8px;left:1126.00px;width:800px;text-align:center;transform-origin:50% 0;transform:scaleX(1.0242);">08.51</div>
<div class="t" style="top:2755.50px;font-size:48.8px;line-height:48.8px;left:1291.40px;width:800px;text-align:center;transform-origin:50% 0;transform:scaleX(1.0242);">10.44</div>
<div class="t" style="top:2755.50px;font-size:48.8px;line-height:48.8px;left:2614.60px;width:800px;text-align:center;transform-origin:50% 0;transform:scaleX(1.0242);">10.44</div>
<div class="t" style="top:2813.39px;font-size:50.2px;line-height:50.2px;left:119.60px;transform-origin:0 0;transform:scaleX(1.002);">- Schule</div>
<div class="t" style="top:2814.57px;font-size:48.8px;line-height:48.8px;left:795.20px;width:800px;text-align:center;transform-origin:50% 0;transform:scaleX(1.0242);">07.17</div>
<div class="t" style="top:2814.57px;font-size:48.8px;line-height:48.8px;left:1126.00px;width:800px;text-align:center;transform-origin:50% 0;transform:scaleX(1.0242);">08.52</div>
<div class="t" style="top:2814.57px;font-size:48.8px;line-height:48.8px;left:1291.40px;width:800px;text-align:center;transform-origin:50% 0;transform:scaleX(1.0242);">10.45</div>
<div class="t" style="top:2814.57px;font-size:48.8px;line-height:48.8px;left:1456.80px;width:800px;text-align:center;transform-origin:50% 0;transform:scaleX(1.0242);">13.45</div>
<div class="t" style="top:2814.57px;font-size:48.8px;line-height:48.8px;left:1787.60px;width:800px;text-align:center;transform-origin:50% 0;transform:scaleX(1.0242);">15.31</div>
<div class="t" style="top:2814.57px;font-size:48.8px;line-height:48.8px;left:2614.60px;width:800px;text-align:center;transform-origin:50% 0;transform:scaleX(1.0242);">10.45</div>
<div class="t" style="top:2865.36px;font-size:50.2px;line-height:50.2px;left:119.60px;transform-origin:0 0;transform:scaleX(1.002);">- Sportpark</div>
<div class="t" style="top:2866.54px;font-size:48.8px;line-height:48.8px;left:795.20px;width:800px;text-align:center;transform-origin:50% 0;transform:scaleX(1.0242);">07.17</div>
<div class="t" style="top:2866.54px;font-size:48.8px;line-height:48.8px;left:1126.00px;width:800px;text-align:center;transform-origin:50% 0;transform:scaleX(1.0242);">08.52</div>
<div class="t" style="top:2866.54px;font-size:48.8px;line-height:48.8px;left:1291.40px;width:800px;text-align:center;transform-origin:50% 0;transform:scaleX(1.0242);">10.45</div>
<div class="t" style="top:2866.54px;font-size:48.8px;line-height:48.8px;left:1456.80px;width:800px;text-align:center;transform-origin:50% 0;transform:scaleX(1.0242);">13.45</div>
<div class="t" style="top:2866.54px;font-size:48.8px;line-height:48.8px;left:1787.60px;width:800px;text-align:center;transform-origin:50% 0;transform:scaleX(1.0242);">15.31</div>
<div class="t" style="top:2866.54px;font-size:48.8px;line-height:48.8px;left:2614.60px;width:800px;text-align:center;transform-origin:50% 0;transform:scaleX(1.0242);">10.45</div>
<div class="t" style="top:2917.33px;font-size:50.2px;line-height:50.2px;left:119.60px;transform-origin:0 0;transform:scaleX(1.002);">Lanzen, Kaufmarkt</div>
<div class="t" style="top:2918.51px;font-size:48.8px;line-height:48.8px;left:795.20px;width:800px;text-align:center;transform-origin:50% 0;transform:scaleX(1.0242);">07.18</div>
<div class="t" style="top:2918.51px;font-size:48.8px;line-height:48.8px;left:1126.00px;width:800px;text-align:center;transform-origin:50% 0;transform:scaleX(1.0242);">08.53</div>
<div class="t" style="top:2918.51px;font-size:48.8px;line-height:48.8px;left:1291.40px;width:800px;text-align:center;transform-origin:50% 0;transform:scaleX(1.0242);">10.46</div>
<div class="t" style="top:2918.51px;font-size:48.8px;line-height:48.8px;left:1456.80px;width:800px;text-align:center;transform-origin:50% 0;transform:scaleX(1.0242);">13.46</div>
<div class="t" style="top:2918.51px;font-size:48.8px;line-height:48.8px;left:1787.60px;width:800px;text-align:center;transform-origin:50% 0;transform:scaleX(1.0242);">15.32</div>
<div class="t" style="top:2918.51px;font-size:48.8px;line-height:48.8px;left:2614.60px;width:800px;text-align:center;transform-origin:50% 0;transform:scaleX(1.0242);">10.46</div>
<div class="t" style="top:2969.30px;font-size:50.2px;line-height:50.2px;left:119.60px;transform-origin:0 0;transform:scaleX(1.002);">Hegge, B19</div>
<div class="t" style="top:2970.48px;font-size:48.8px;line-height:48.8px;left:795.20px;width:800px;text-align:center;transform-origin:50% 0;transform:scaleX(1.0242);">07.19</div>
<div class="t" style="top:2970.48px;font-size:48.8px;line-height:48.8px;left:960.60px;width:800px;text-align:center;transform-origin:50% 0;transform:scaleX(1.0242);">07.14</div>
<div class="t" style="top:2970.48px;font-size:48.8px;line-height:48.8px;left:1126.00px;width:800px;text-align:center;transform-origin:50% 0;transform:scaleX(1.0242);">08.54</div>
<div class="t" style="top:2970.48px;font-size:48.8px;line-height:48.8px;left:1291.40px;width:800px;text-align:center;transform-origin:50% 0;transform:scaleX(1.0242);">10.47</div>
<div class="t" style="top:2970.48px;font-size:48.8px;line-height:48.8px;left:1456.80px;width:800px;text-align:center;transform-origin:50% 0;transform:scaleX(1.0242);">13.47</div>
<div class="t" style="top:2970.48px;font-size:48.8px;line-height:48.8px;left:1622.20px;width:800px;text-align:center;transform-origin:50% 0;transform:scaleX(1.0242);">15.40</div>
<div class="t" style="top:2970.48px;font-size:48.8px;line-height:48.8px;left:1787.60px;width:800px;text-align:center;transform-origin:50% 0;transform:scaleX(1.0242);">15.33</div>
<div class="t" style="top:2970.48px;font-size:48.8px;line-height:48.8px;left:1953.00px;width:800px;text-align:center;transform-origin:50% 0;transform:scaleX(1.0242);">16.40</div>
<div class="t" style="top:2970.48px;font-size:48.8px;line-height:48.8px;left:2118.40px;width:800px;text-align:center;transform-origin:50% 0;transform:scaleX(1.0242);">17.36</div>
<div class="t" style="top:2970.48px;font-size:48.8px;line-height:48.8px;left:2614.60px;width:800px;text-align:center;transform-origin:50% 0;transform:scaleX(1.0242);">10.47</div>
<div class="t" style="top:2970.48px;font-size:48.8px;line-height:48.8px;left:2780.00px;width:800px;text-align:center;transform-origin:50% 0;transform:scaleX(1.0242);">14.32</div>
<div class="t" style="top:2970.48px;font-size:48.8px;line-height:48.8px;left:2945.40px;width:800px;text-align:center;transform-origin:50% 0;transform:scaleX(1.0242);">19.17</div>
<div class="t" style="top:3021.27px;font-size:50.2px;line-height:50.2px;left:119.60px;transform-origin:0 0;transform:scaleX(1.002);">Oberhegge B19</div>
<div class="t" style="top:3022.45px;font-size:48.8px;line-height:48.8px;left:795.20px;width:800px;text-align:center;transform-origin:50% 0;transform:scaleX(1.0242);">07.20</div>
<div class="t" style="top:3022.45px;font-size:48.8px;line-height:48.8px;left:960.60px;width:800px;text-align:center;transform-origin:50% 0;transform:scaleX(1.0242);">07.15</div>
<div class="t" style="top:3022.45px;font-size:48.8px;line-height:48.8px;left:1126.00px;width:800px;text-align:center;transform-origin:50% 0;transform:scaleX(1.0242);">08.55</div>
<div class="t" style="top:3022.45px;font-size:48.8px;line-height:48.8px;left:1291.40px;width:800px;text-align:center;transform-origin:50% 0;transform:scaleX(1.0242);">10.48</div>
<div class="t" style="top:3022.45px;font-size:48.8px;line-height:48.8px;left:1456.80px;width:800px;text-align:center;transform-origin:50% 0;transform:scaleX(1.0242);">13.48</div>
<div class="t" style="top:3022.45px;font-size:48.8px;line-height:48.8px;left:1622.20px;width:800px;text-align:center;transform-origin:50% 0;transform:scaleX(1.0242);">15.41</div>
<div class="t" style="top:3022.45px;font-size:48.8px;line-height:48.8px;left:1787.60px;width:800px;text-align:center;transform-origin:50% 0;transform:scaleX(1.0242);">15.34</div>
<div class="t" style="top:3022.45px;font-size:48.8px;line-height:48.8px;left:1953.00px;width:800px;text-align:center;transform-origin:50% 0;transform:scaleX(1.0242);">16.41</div>
<div class="t" style="top:3022.45px;font-size:48.8px;line-height:48.8px;left:2118.40px;width:800px;text-align:center;transform-origin:50% 0;transform:scaleX(1.0242);">17.37</div>
<div class="t" style="top:3022.45px;font-size:48.8px;line-height:48.8px;left:2614.60px;width:800px;text-align:center;transform-origin:50% 0;transform:scaleX(1.0242);">10.48</div>
<div class="t" style="top:3022.45px;font-size:48.8px;line-height:48.8px;left:2780.00px;width:800px;text-align:center;transform-origin:50% 0;transform:scaleX(1.0242);">14.33</div>
<div class="t" style="top:3022.45px;font-size:48.8px;line-height:48.8px;left:2945.40px;width:800px;text-align:center;transform-origin:50% 0;transform:scaleX(1.0242);">19.18</div>
<div class="t" style="top:3073.24px;font-size:50.2px;line-height:50.2px;left:119.60px;transform-origin:0 0;transform:scaleX(1.002);">Kempten, Weißholz B19</div>
<div class="t" style="top:3074.42px;font-size:48.8px;line-height:48.8px;left:795.20px;width:800px;text-align:center;transform-origin:50% 0;transform:scaleX(1.0242);">07.21</div>
<div class="t" style="top:3074.42px;font-size:48.8px;line-height:48.8px;left:960.60px;width:800px;text-align:center;transform-origin:50% 0;transform:scaleX(1.0242);">07.15</div>
<div class="t" style="top:3074.42px;font-size:48.8px;line-height:48.8px;left:1126.00px;width:800px;text-align:center;transform-origin:50% 0;transform:scaleX(1.0242);">08.56</div>
<div class="t" style="top:3074.42px;font-size:48.8px;line-height:48.8px;left:1291.40px;width:800px;text-align:center;transform-origin:50% 0;transform:scaleX(1.0242);">10.49</div>
<div class="t" style="top:3074.42px;font-size:48.8px;line-height:48.8px;left:1456.80px;width:800px;text-align:center;transform-origin:50% 0;transform:scaleX(1.0242);">13.49</div>
<div class="t" style="top:3074.42px;font-size:48.8px;line-height:48.8px;left:1622.20px;width:800px;text-align:center;transform-origin:50% 0;transform:scaleX(1.0242);">15.42</div>
<div class="t" style="top:3074.42px;font-size:48.8px;line-height:48.8px;left:1787.60px;width:800px;text-align:center;transform-origin:50% 0;transform:scaleX(1.0242);">15.35</div>
<div class="t" style="top:3074.42px;font-size:48.8px;line-height:48.8px;left:1953.00px;width:800px;text-align:center;transform-origin:50% 0;transform:scaleX(1.0242);">16.42</div>
<div class="t" style="top:3074.42px;font-size:48.8px;line-height:48.8px;left:2118.40px;width:800px;text-align:center;transform-origin:50% 0;transform:scaleX(1.0242);">17.38</div>
<div class="t" style="top:3074.42px;font-size:48.8px;line-height:48.8px;left:2614.60px;width:800px;text-align:center;transform-origin:50% 0;transform:scaleX(1.0242);">10.49</div>
<div class="t" style="top:3074.42px;font-size:48.8px;line-height:48.8px;left:2780.00px;width:800px;text-align:center;transform-origin:50% 0;transform:scaleX(1.0242);">14.34</div>
<div class="t" style="top:3074.42px;font-size:48.8px;line-height:48.8px;left:2945.40px;width:800px;text-align:center;transform-origin:50% 0;transform:scaleX(1.0242);">19.19</div>
<div class="t" style="top:3125.21px;font-size:50.2px;line-height:50.2px;left:119.60px;transform-origin:0 0;transform:scaleX(1.002);">- Oberstdorfer Str./Adelharzer</div>
<div class="t" style="top:3126.39px;font-size:48.8px;line-height:48.8px;left:795.20px;width:800px;text-align:center;transform-origin:50% 0;transform:scaleX(1.0242);">07.23</div>
<div class="t" style="top:3126.39px;font-size:48.8px;line-height:48.8px;left:960.60px;width:800px;text-align:center;transform-origin:50% 0;transform:scaleX(1.0242);">07.16</div>
<div class="t" style="top:3126.39px;font-size:48.8px;line-height:48.8px;left:1126.00px;width:800px;text-align:center;transform-origin:50% 0;transform:scaleX(1.0242);">08.57</div>
<div class="t" style="top:3126.39px;font-size:48.8px;line-height:48.8px;left:1291.40px;width:800px;text-align:center;transform-origin:50% 0;transform:scaleX(1.0242);">10.50</div>
<div class="t" style="top:3126.39px;font-size:48.8px;line-height:48.8px;left:1456.80px;width:800px;text-align:center;transform-origin:50% 0;transform:scaleX(1.0242);">13.50</div>
<div class="t" style="top:3126.39px;font-size:48.8px;line-height:48.8px;left:1622.20px;width:800px;text-align:center;transform-origin:50% 0;transform:scaleX(1.0242);">15.43</div>
<div class="t" style="top:3126.39px;font-size:48.8px;line-height:48.8px;left:1787.60px;width:800px;text-align:center;transform-origin:50% 0;transform:scaleX(1.0242);">15.36</div>
<div class="t" style="top:3126.39px;font-size:48.8px;line-height:48.8px;left:1953.00px;width:800px;text-align:center;transform-origin:50% 0;transform:scaleX(1.0242);">16.43</div>
<div class="t" style="top:3126.39px;font-size:48.8px;line-height:48.8px;left:2118.40px;width:800px;text-align:center;transform-origin:50% 0;transform:scaleX(1.0242);">17.39</div>
<div class="t" style="top:3126.39px;font-size:48.8px;line-height:48.8px;left:2614.60px;width:800px;text-align:center;transform-origin:50% 0;transform:scaleX(1.0242);">10.50</div>
<div class="t" style="top:3126.39px;font-size:48.8px;line-height:48.8px;left:2780.00px;width:800px;text-align:center;transform-origin:50% 0;transform:scaleX(1.0242);">14.35</div>
<div class="t" style="top:3126.39px;font-size:48.8px;line-height:48.8px;left:2945.40px;width:800px;text-align:center;transform-origin:50% 0;transform:scaleX(1.0242);">19.20</div>
<div class="t" style="top:3177.18px;font-size:50.2px;line-height:50.2px;left:119.60px;transform-origin:0 0;transform:scaleX(1.002);">- Oberstdorfer Str./Im Moos</div>
<div class="t" style="top:3178.36px;font-size:48.8px;line-height:48.8px;left:795.20px;width:800px;text-align:center;transform-origin:50% 0;transform:scaleX(1.0242);">07.24</div>
<div class="t" style="top:3178.36px;font-size:48.8px;line-height:48.8px;left:960.60px;width:800px;text-align:center;transform-origin:50% 0;transform:scaleX(1.0242);">07.17</div>
<div class="t" style="top:3178.36px;font-size:48.8px;line-height:48.8px;left:1126.00px;width:800px;text-align:center;transform-origin:50% 0;transform:scaleX(1.0242);">08.58</div>
<div class="t" style="top:3178.36px;font-size:48.8px;line-height:48.8px;left:1291.40px;width:800px;text-align:center;transform-origin:50% 0;transform:scaleX(1.0242);">10.51</div>
<div class="t" style="top:3178.36px;font-size:48.8px;line-height:48.8px;left:1456.80px;width:800px;text-align:center;transform-origin:50% 0;transform:scaleX(1.0242);">13.51</div>
<div class="t" style="top:3178.36px;font-size:48.8px;line-height:48.8px;left:1622.20px;width:800px;text-align:center;transform-origin:50% 0;transform:scaleX(1.0242);">15.44</div>
<div class="t" style="top:3178.36px;font-size:48.8px;line-height:48.8px;left:1787.60px;width:800px;text-align:center;transform-origin:50% 0;transform:scaleX(1.0242);">15.37</div>
<div class="t" style="top:3178.36px;font-size:48.8px;line-height:48.8px;left:1953.00px;width:800px;text-align:center;transform-origin:50% 0;transform:scaleX(1.0242);">16.44</div>
<div class="t" style="top:3178.36px;font-size:48.8px;line-height:48.8px;left:2118.40px;width:800px;text-align:center;transform-origin:50% 0;transform:scaleX(1.0242);">17.40</div>
<div class="t" style="top:3178.36px;font-size:48.8px;line-height:48.8px;left:2614.60px;width:800px;text-align:center;transform-origin:50% 0;transform:scaleX(1.0242);">10.51</div>
<div class="t" style="top:3178.36px;font-size:48.8px;line-height:48.8px;left:2780.00px;width:800px;text-align:center;transform-origin:50% 0;transform:scaleX(1.0242);">14.36</div>
<div class="t" style="top:3178.36px;font-size:48.8px;line-height:48.8px;left:2945.40px;width:800px;text-align:center;transform-origin:50% 0;transform:scaleX(1.0242);">19.21</div>
<div class="t" style="top:3229.15px;font-size:50.2px;line-height:50.2px;left:119.60px;transform-origin:0 0;transform:scaleX(1.002);">- Bahnhofstr./Immenstädter Str.</div>
<div class="t" style="top:3230.33px;font-size:48.8px;line-height:48.8px;left:795.20px;width:800px;text-align:center;transform-origin:50% 0;transform:scaleX(1.0242);">07.26</div>
<div class="t" style="top:3230.33px;font-size:48.8px;line-height:48.8px;left:960.60px;width:800px;text-align:center;transform-origin:50% 0;transform:scaleX(1.0242);">07.18</div>
<div class="t" style="top:3230.33px;font-size:48.8px;line-height:48.8px;left:1126.00px;width:800px;text-align:center;transform-origin:50% 0;transform:scaleX(1.0242);">08.58</div>
<div class="t" style="top:3230.33px;font-size:48.8px;line-height:48.8px;left:1291.40px;width:800px;text-align:center;transform-origin:50% 0;transform:scaleX(1.0242);">10.51</div>
<div class="t" style="top:3230.33px;font-size:48.8px;line-height:48.8px;left:1456.80px;width:800px;text-align:center;transform-origin:50% 0;transform:scaleX(1.0242);">13.51</div>
<div class="t" style="top:3230.33px;font-size:48.8px;line-height:48.8px;left:1622.20px;width:800px;text-align:center;transform-origin:50% 0;transform:scaleX(1.0242);">15.44</div>
<div class="t" style="top:3230.33px;font-size:48.8px;line-height:48.8px;left:1787.60px;width:800px;text-align:center;transform-origin:50% 0;transform:scaleX(1.0242);">15.37</div>
<div class="t" style="top:3230.33px;font-size:48.8px;line-height:48.8px;left:1953.00px;width:800px;text-align:center;transform-origin:50% 0;transform:scaleX(1.0242);">16.44</div>
<div class="t" style="top:3230.33px;font-size:48.8px;line-height:48.8px;left:2118.40px;width:800px;text-align:center;transform-origin:50% 0;transform:scaleX(1.0242);">17.40</div>
<div class="t" style="top:3230.33px;font-size:48.8px;line-height:48.8px;left:2614.60px;width:800px;text-align:center;transform-origin:50% 0;transform:scaleX(1.0242);">10.51</div>
<div class="t" style="top:3230.33px;font-size:48.8px;line-height:48.8px;left:2780.00px;width:800px;text-align:center;transform-origin:50% 0;transform:scaleX(1.0242);">14.36</div>
<div class="t" style="top:3230.33px;font-size:48.8px;line-height:48.8px;left:2945.40px;width:800px;text-align:center;transform-origin:50% 0;transform:scaleX(1.0242);">19.21</div>
<div class="t" style="top:3281.12px;font-size:50.2px;line-height:50.2px;left:119.60px;transform-origin:0 0;transform:scaleX(1.002);">- Hbf (Steig B1)</div>
<div class="t" style="top:3282.30px;font-size:48.8px;line-height:48.8px;left:795.20px;width:800px;text-align:center;transform-origin:50% 0;transform:scaleX(1.0242);">07.27</div>
<div class="t" style="top:3282.30px;font-size:48.8px;line-height:48.8px;left:960.60px;width:800px;text-align:center;transform-origin:50% 0;transform:scaleX(1.0242);">07.19</div>
<div class="t" style="top:3282.30px;font-size:48.8px;line-height:48.8px;left:1126.00px;width:800px;text-align:center;transform-origin:50% 0;transform:scaleX(1.0242);">08.59</div>
<div class="t" style="top:3282.30px;font-size:48.8px;line-height:48.8px;left:1291.40px;width:800px;text-align:center;transform-origin:50% 0;transform:scaleX(1.0242);">10.52</div>
<div class="t" style="top:3282.30px;font-size:48.8px;line-height:48.8px;left:1456.80px;width:800px;text-align:center;transform-origin:50% 0;transform:scaleX(1.0242);">13.52</div>
<div class="t" style="top:3282.30px;font-size:48.8px;line-height:48.8px;left:1787.60px;width:800px;text-align:center;transform-origin:50% 0;transform:scaleX(1.0242);">15.38</div>
<div class="t" style="top:3282.30px;font-size:48.8px;line-height:48.8px;left:1953.00px;width:800px;text-align:center;transform-origin:50% 0;transform:scaleX(1.0242);">16.45</div>
<div class="t" style="top:3282.30px;font-size:48.8px;line-height:48.8px;left:2118.40px;width:800px;text-align:center;transform-origin:50% 0;transform:scaleX(1.0242);">17.41</div>
<div class="t" style="top:3282.30px;font-size:48.8px;line-height:48.8px;left:2614.60px;width:800px;text-align:center;transform-origin:50% 0;transform:scaleX(1.0242);">10.52</div>
<div class="t" style="top:3282.30px;font-size:48.8px;line-height:48.8px;left:2780.00px;width:800px;text-align:center;transform-origin:50% 0;transform:scaleX(1.0242);">14.37</div>
<div class="t" style="top:3282.30px;font-size:48.8px;line-height:48.8px;left:2945.40px;width:800px;text-align:center;transform-origin:50% 0;transform:scaleX(1.0242);">19.22</div>
<div class="t" style="top:3333.09px;font-size:50.2px;line-height:50.2px;left:119.60px;transform-origin:0 0;transform:scaleX(1.002);">- Bahnhofstr./Hochschule</div>
<div class="t" style="top:3334.27px;font-size:48.8px;line-height:48.8px;left:795.20px;width:800px;text-align:center;transform-origin:50% 0;transform:scaleX(1.0242);">07.29</div>
<div class="t" style="top:3334.27px;font-size:48.8px;line-height:48.8px;left:960.60px;width:800px;text-align:center;transform-origin:50% 0;transform:scaleX(1.0242);">07.21</div>
<div class="t" style="top:3334.27px;font-size:48.8px;line-height:48.8px;left:1126.00px;width:800px;text-align:center;transform-origin:50% 0;transform:scaleX(1.0242);">09.01</div>
<div class="t" style="top:3334.27px;font-size:48.8px;line-height:48.8px;left:1291.40px;width:800px;text-align:center;transform-origin:50% 0;transform:scaleX(1.0242);">10.54</div>
<div class="t" style="top:3334.27px;font-size:48.8px;line-height:48.8px;left:1622.20px;width:800px;text-align:center;transform-origin:50% 0;transform:scaleX(1.0242);">15.45</div>
<div class="t" style="top:3334.27px;font-size:48.8px;line-height:48.8px;left:1953.00px;width:800px;text-align:center;transform-origin:50% 0;transform:scaleX(1.0242);">16.47</div>
<div class="t" style="top:3334.27px;font-size:48.8px;line-height:48.8px;left:2118.40px;width:800px;text-align:center;transform-origin:50% 0;transform:scaleX(1.0242);">17.43</div>
<div class="t" style="top:3334.27px;font-size:48.8px;line-height:48.8px;left:2614.60px;width:800px;text-align:center;transform-origin:50% 0;transform:scaleX(1.0242);">10.54</div>
<div class="t" style="top:3334.27px;font-size:48.8px;line-height:48.8px;left:2780.00px;width:800px;text-align:center;transform-origin:50% 0;transform:scaleX(1.0242);">14.39</div>
<div class="t" style="top:3334.27px;font-size:48.8px;line-height:48.8px;left:2945.40px;width:800px;text-align:center;transform-origin:50% 0;transform:scaleX(1.0242);">19.24</div>
<div class="t" style="top:3385.06px;font-size:50.2px;line-height:50.2px;left:119.60px;transform-origin:0 0;transform:scaleX(1.002);">- M.-Lochb.-Str./Haubenschloß</div>
<div class="t" style="top:3386.24px;font-size:48.8px;line-height:48.8px;left:795.20px;width:800px;text-align:center;transform-origin:50% 0;transform:scaleX(1.0242);">07.32</div>
<div class="t" style="top:3437.03px;font-size:50.2px;line-height:50.2px;left:119.60px;transform-origin:0 0;transform:scaleX(1.002);">- Feilbergstraße</div>
<div class="t" style="top:3438.21px;font-size:48.8px;line-height:48.8px;left:1143.00px;transform-origin:0 0;transform:scaleX(0.844965);">07.37</div>
<div class="t" style="top:3489.00px;font-size:50.2px;line-height:50.2px;left:119.60px;transform-origin:0 0;transform:scaleX(1.002);">- Maria-Ward-Schule</div>
<div class="t" style="top:3490.18px;font-size:48.8px;line-height:48.8px;left:1143.00px;transform-origin:0 0;transform:scaleX(0.844965);">07.38</div>
<div class="t" style="top:3540.97px;font-size:50.2px;line-height:50.2px;left:119.60px;transform-origin:0 0;transform:scaleX(1.002);">- Forum Allgäu (Steig 5)</div>
<div class="t" style="top:3542.15px;font-size:48.8px;line-height:48.8px;left:960.60px;width:800px;text-align:center;transform-origin:50% 0;transform:scaleX(1.0242);">07.23</div>
<div class="t" style="top:3542.15px;font-size:48.8px;line-height:48.8px;left:1126.00px;width:800px;text-align:center;transform-origin:50% 0;transform:scaleX(1.0242);">09.03</div>
<div class="t" style="top:3542.15px;font-size:48.8px;line-height:48.8px;left:1291.40px;width:800px;text-align:center;transform-origin:50% 0;transform:scaleX(1.0242);">10.56</div>
<div class="t" style="top:3542.15px;font-size:48.8px;line-height:48.8px;left:1622.20px;width:800px;text-align:center;transform-origin:50% 0;transform:scaleX(1.0242);">15.47</div>
<div class="t" style="top:3542.15px;font-size:48.8px;line-height:48.8px;left:1953.00px;width:800px;text-align:center;transform-origin:50% 0;transform:scaleX(1.0242);">16.49</div>
<div class="t" style="top:3542.15px;font-size:48.8px;line-height:48.8px;left:2118.40px;width:800px;text-align:center;transform-origin:50% 0;transform:scaleX(1.0242);">17.45</div>
<div class="t" style="top:3542.15px;font-size:48.8px;line-height:48.8px;left:2614.60px;width:800px;text-align:center;transform-origin:50% 0;transform:scaleX(1.0242);">10.56</div>
<div class="t" style="top:3542.15px;font-size:48.8px;line-height:48.8px;left:2780.00px;width:800px;text-align:center;transform-origin:50% 0;transform:scaleX(1.0242);">14.41</div>
<div class="t" style="top:3542.15px;font-size:48.8px;line-height:48.8px;left:2945.40px;width:800px;text-align:center;transform-origin:50% 0;transform:scaleX(1.0242);">19.26</div>
<div class="t" style="top:3610.04px;font-size:50.2px;line-height:50.2px;left:119.60px;transform-origin:0 0;transform:scaleX(1.002);">- Zentrum (ehem. ZUM) (Steig E1)</div>
<div class="t" style="top:3611.22px;font-size:48.8px;line-height:48.8px;left:795.20px;width:800px;text-align:center;transform-origin:50% 0;transform:scaleX(1.0242);">07.45</div>
<div class="t" style="top:3611.22px;font-size:48.8px;line-height:48.8px;left:960.60px;width:800px;text-align:center;transform-origin:50% 0;transform:scaleX(1.0242);">07.29</div>
<div class="t" style="top:3611.22px;font-size:48.8px;line-height:48.8px;left:1126.00px;width:800px;text-align:center;transform-origin:50% 0;transform:scaleX(1.0242);">09.06</div>
<div class="t" style="top:3611.22px;font-size:48.8px;line-height:48.8px;left:1291.40px;width:800px;text-align:center;transform-origin:50% 0;transform:scaleX(1.0242);">10.59</div>
<div class="t" style="top:3611.22px;font-size:48.8px;line-height:48.8px;left:1622.20px;width:800px;text-align:center;transform-origin:50% 0;transform:scaleX(1.0242);">15.50</div>
<div class="t" style="top:3611.22px;font-size:48.8px;line-height:48.8px;left:1953.00px;width:800px;text-align:center;transform-origin:50% 0;transform:scaleX(1.0242);">16.52</div>
<div class="t" style="top:3611.22px;font-size:48.8px;line-height:48.8px;left:2118.40px;width:800px;text-align:center;transform-origin:50% 0;transform:scaleX(1.0242);">17.49</div>
<div class="t" style="top:3611.22px;font-size:48.8px;line-height:48.8px;left:2614.60px;width:800px;text-align:center;transform-origin:50% 0;transform:scaleX(1.0242);">10.59</div>
<div class="t" style="top:3611.22px;font-size:48.8px;line-height:48.8px;left:2780.00px;width:800px;text-align:center;transform-origin:50% 0;transform:scaleX(1.0242);">14.44</div>
<div class="t" style="top:3611.22px;font-size:48.8px;line-height:48.8px;left:2945.40px;width:800px;text-align:center;transform-origin:50% 0;transform:scaleX(1.0242);">19.29</div>
<div class="t" style="top:3694.91px;font-size:50.2px;line-height:50.2px;left:119.60px;transform-origin:0 0;transform:scaleX(0.9965);">ZEICHENERKLÄRUNG:</div>
<div class="t w" style="top:3695.31px;font-size:50.2px;line-height:50.2px;left:285.00px;width:800px;text-align:center;transform-origin:50% 0;transform:scaleX(1.002);">F</div>
<div class="t" style="top:3694.91px;font-size:50.2px;line-height:50.2px;left:714.00px;transform-origin:0 0;transform:scaleX(1.002);">= nur an schulfreien Tagen</div>
<div class="t w" style="top:3695.31px;font-size:50.2px;line-height:50.2px;left:989.60px;width:800px;text-align:center;transform-origin:50% 0;transform:scaleX(1.002);">S</div>
<div class="t" style="top:3694.91px;font-size:50.2px;line-height:50.2px;left:1418.00px;transform-origin:0 0;transform:scaleX(1.002);">= nur an Schultagen</div>
<div class="t w" style="top:3695.31px;font-size:50.2px;line-height:50.2px;left:1566.50px;width:800px;text-align:center;transform-origin:50% 0;transform:scaleX(1.002);">HS</div>
<div class="t" style="top:3694.91px;font-size:50.2px;line-height:50.2px;left:2014.00px;transform-origin:0 0;transform:scaleX(1.002);">= nicht 24. und 31.12.</div>
<div class="t" style="top:3694.91px;font-size:50.2px;line-height:50.2px;left:2575.50px;transform-origin:0 0;transform:scaleX(1.002);">= hält nur zum Aussteigen</div>
<div class="t b" style="top:543.96px;font-size:47.3px;line-height:47.3px;left:119.87px;transform-origin:0 0;transform:scaleX(0.956941);">Am</div>
<div class="t b" style="top:543.96px;font-size:47.3px;line-height:47.3px;left:206.02px;transform-origin:0 0;transform:scaleX(0.903753);">24.</div>
<div class="t b" style="top:543.96px;font-size:47.3px;line-height:47.3px;left:284.48px;transform-origin:0 0;transform:scaleX(0.9);">u.</div>
<div class="t b" style="top:543.96px;font-size:47.3px;line-height:47.3px;left:339.88px;transform-origin:0 0;transform:scaleX(1.03409);">31.12.</div>
<div class="t b" style="top:543.96px;font-size:47.3px;line-height:47.3px;left:492.85px;transform-origin:0 0;transform:scaleX(1.07);">-</div>
<div class="t b" style="top:543.96px;font-size:47.3px;line-height:47.3px;left:516.98px;transform-origin:0 0;transform:scaleX(0.9);">wenn</div>
<div class="t b" style="top:543.96px;font-size:47.3px;line-height:47.3px;left:637.79px;transform-origin:0 0;transform:scaleX(1.07);">Werktag</div>
<div class="t b" style="top:543.96px;font-size:47.3px;line-height:47.3px;left:850.35px;transform-origin:0 0;transform:scaleX(1.07);">-</div>
<div class="t b" style="top:543.96px;font-size:47.3px;line-height:47.3px;left:879.68px;transform-origin:0 0;transform:scaleX(0.98536);">Verkehr</div>
<div class="t b" style="top:543.96px;font-size:47.3px;line-height:47.3px;left:1072.64px;transform-origin:0 0;transform:scaleX(1.0032);">wie</div>
<div class="t b" style="top:543.96px;font-size:47.3px;line-height:47.3px;left:1162.12px;transform-origin:0 0;transform:scaleX(0.999307);">am</div>
<div class="t b" style="top:543.96px;font-size:47.3px;line-height:47.3px;left:1243.66px;transform-origin:0 0;transform:scaleX(0.984484);">Samstag.</div>
<div class="t b" style="top:3747.96px;font-size:47.3px;line-height:47.3px;left:119.08px;transform-origin:0 0;transform:scaleX(0.922858);">RBA</div>
<div class="t b" style="top:3747.96px;font-size:47.3px;line-height:47.3px;left:231.00px;transform-origin:0 0;transform:scaleX(0.94898);">Regionalbus</div>
<div class="t b" style="top:3747.96px;font-size:47.3px;line-height:47.3px;left:511.36px;transform-origin:0 0;transform:scaleX(0.970344);">Augsburg</div>
<div class="t b" style="top:3747.96px;font-size:47.3px;line-height:47.3px;left:740.62px;transform-origin:0 0;transform:scaleX(0.967072);">GmbH,</div>
<div class="t b" style="top:3747.96px;font-size:47.3px;line-height:47.3px;left:897.86px;transform-origin:0 0;transform:scaleX(0.991386);">Betrieb</div>
<div class="t b" style="top:3747.96px;font-size:47.3px;line-height:47.3px;left:1072.47px;transform-origin:0 0;transform:scaleX(1.02125);">87439</div>
<div class="t b" style="top:3747.96px;font-size:47.3px;line-height:47.3px;left:1221.90px;transform-origin:0 0;transform:scaleX(0.980023);">Kempten,</div>
<div class="t b" style="top:3747.96px;font-size:47.3px;line-height:47.3px;left:1444.45px;transform-origin:0 0;transform:scaleX(0.965279);">Memminger</div>
<div class="t b" style="top:3747.96px;font-size:47.3px;line-height:47.3px;left:1721.11px;transform-origin:0 0;transform:scaleX(1.02265);">Straße</div>
<div class="t b" style="top:3747.96px;font-size:47.3px;line-height:47.3px;left:1884.59px;transform-origin:0 0;transform:scaleX(0.976692);">123</div>
<div class="t b" style="top:3747.96px;font-size:47.3px;line-height:47.3px;left:1977.97px;transform-origin:0 0;transform:scaleX(1.05395);">-</div>
<div class="t b" style="top:3747.96px;font-size:47.3px;line-height:47.3px;left:2011.14px;transform-origin:0 0;transform:scaleX(0.991516);">www.rba-bus.de</div>
<div class="t b" style="top:3747.96px;font-size:47.3px;line-height:47.3px;left:2395.47px;transform-origin:0 0;transform:scaleX(1.05395);">-</div>
<div class="t b" style="top:3747.96px;font-size:47.3px;line-height:47.3px;left:2424.49px;transform-origin:0 0;transform:scaleX(0.949844);">Email:</div>
<div class="t b" style="top:3747.96px;font-size:47.3px;line-height:47.3px;left:2571.70px;transform-origin:0 0;transform:scaleX(0.999248);">info-kempten@rba-bus.de</div>
<div class="t" style="top:467.51px;font-size:50.2px;line-height:50.2px;left:1704.50px;transform-origin:0 0;transform:scaleX(1.002);">Gültig ab 08.09.2025</div>
<div class="t b" style="top:225.14px;font-size:166.4px;line-height:166.4px;left:1020.00px;transform-origin:0 0;">64</div>
<div class="t b" style="top:248.76px;font-size:123.5px;line-height:123.5px;left:1389.85px;transform-origin:0 0;transform:scaleX(0.950167);">Immenstadt</div>
<div class="t b" style="top:248.76px;font-size:123.5px;line-height:123.5px;left:2085.11px;transform-origin:0 0;transform:scaleX(1.0165);">-</div>
<div class="t b" style="top:248.76px;font-size:123.5px;line-height:123.5px;left:2161.11px;transform-origin:0 0;transform:scaleX(0.942521);">Kempten</div>
<div class="t b i w" style="top:265.58px;font-size:88.5px;line-height:88.5px;left:2933.50px;transform-origin:0 0;transform:scaleX(0.957);">RBA</div>
<div class="t b i" style="top:364.43px;font-size:29.5px;line-height:29.5px;left:2922.00px;transform-origin:0 0;transform:scaleX(1.071);color:#e2062f;">Regionalbus Augsburg GmbH</div>
</body></html>
